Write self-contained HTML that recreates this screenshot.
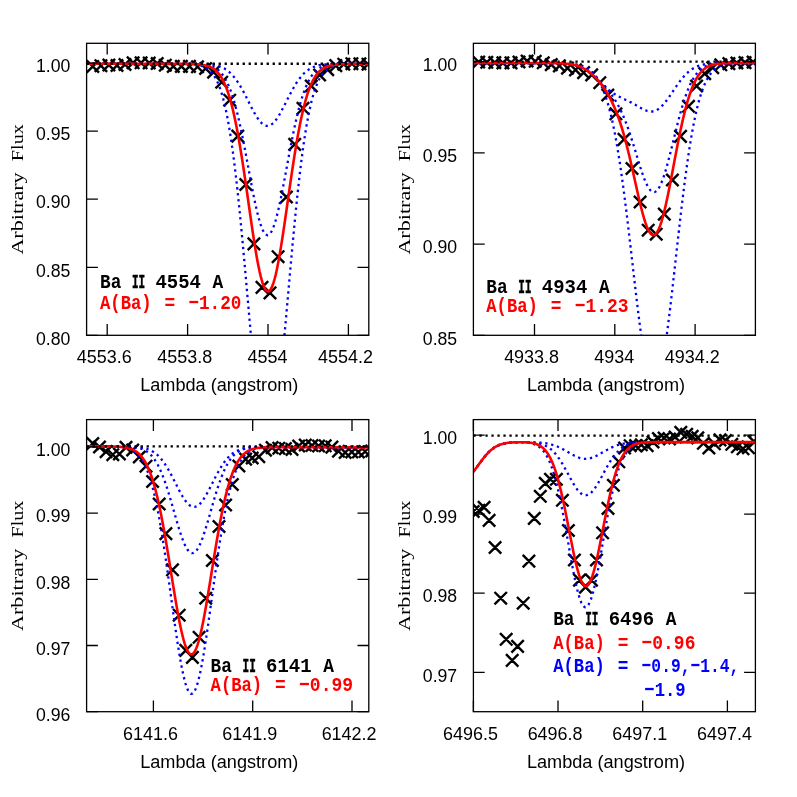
<!DOCTYPE html>
<html><head><meta charset="utf-8"><title>Ba II lines</title>
<style>
html,body{margin:0;padding:0;background:#fff;}
body{width:797px;height:797px;overflow:hidden;font-family:"Liberation Sans",sans-serif;}
svg{display:block;will-change:transform}
text{font-family:"Liberation Sans",sans-serif;fill:#000}
text.tw{font-family:"Liberation Serif",serif;}
text.twb{font-family:"Liberation Mono",monospace;font-weight:bold}
</style></head><body>
<svg width="797" height="797" viewBox="0 0 797 797">
<rect width="797" height="797" fill="#fff"/>
<clipPath id="c1"><rect x="86.6" y="43.3" width="282.20000000000005" height="292.0"/></clipPath>
<g clip-path="url(#c1)">
<path d="M86.6 60.3l12.4 12.4M86.6 72.7l12.4 -12.4M94.7 59.5l12.4 12.4M94.7 71.9l12.4 -12.4M102.7 58.8l12.4 12.4M102.7 71.2l12.4 -12.4M110.8 59.3l12.4 12.4M110.8 71.7l12.4 -12.4M118.8 58.3l12.4 12.4M118.8 70.7l12.4 -12.4M126.9 56.6l12.4 12.4M126.9 69.0l12.4 -12.4M134.9 56.6l12.4 12.4M134.9 69.0l12.4 -12.4M143.0 56.8l12.4 12.4M143.0 69.2l12.4 -12.4M151.0 57.3l12.4 12.4M151.0 69.7l12.4 -12.4M159.1 59.0l12.4 12.4M159.1 71.4l12.4 -12.4M167.1 60.2l12.4 12.4M167.1 72.6l12.4 -12.4M175.2 60.2l12.4 12.4M175.2 72.6l12.4 -12.4M183.3 60.2l12.4 12.4M183.3 72.6l12.4 -12.4M191.3 60.6l12.4 12.4M191.3 73.0l12.4 -12.4M199.4 62.3l12.4 12.4M199.4 74.7l12.4 -12.4M207.4 65.9l12.4 12.4M207.4 78.3l12.4 -12.4M215.5 76.0l12.4 12.4M215.5 88.4l12.4 -12.4M223.5 94.0l12.4 12.4M223.5 106.4l12.4 -12.4M231.6 129.9l12.4 12.4M231.6 142.3l12.4 -12.4M239.6 178.3l12.4 12.4M239.6 190.7l12.4 -12.4M247.7 237.7l12.4 12.4M247.7 250.1l12.4 -12.4M255.8 281.2l12.4 12.4M255.8 293.6l12.4 -12.4M263.8 286.7l12.4 12.4M263.8 299.1l12.4 -12.4M271.9 250.5l12.4 12.4M271.9 262.9l12.4 -12.4M280.2 190.8l12.4 12.4M280.2 203.2l12.4 -12.4M288.5 138.2l12.4 12.4M288.5 150.6l12.4 -12.4M296.8 102.1l12.4 12.4M296.8 114.5l12.4 -12.4M305.1 79.8l12.4 12.4M305.1 92.2l12.4 -12.4M313.4 68.8l12.4 12.4M313.4 81.2l12.4 -12.4M321.5 63.4l12.4 12.4M321.5 75.8l12.4 -12.4M329.6 59.4l12.4 12.4M329.6 71.8l12.4 -12.4M337.6 58.0l12.4 12.4M337.6 70.4l12.4 -12.4M345.7 57.5l12.4 12.4M345.7 69.9l12.4 -12.4M353.7 57.6l12.4 12.4M353.7 70.0l12.4 -12.4M361.8 58.0l12.4 12.4M361.8 70.4l12.4 -12.4" stroke="#000" stroke-width="2.4" fill="none"/>
<path d="M86.6 63.8L87.6 63.8L88.6 63.8L89.6 63.8L90.6 63.8L91.6 63.8L92.6 63.8L93.6 63.8L94.6 63.8L95.6 63.8L96.6 63.8L97.6 63.8L98.6 63.8L99.6 63.8L100.6 63.8L101.6 63.8L102.6 63.8L103.6 63.8L104.6 63.8L105.6 63.8L106.6 63.8L107.6 63.8L108.6 63.8L109.6 63.8L110.6 63.8L111.6 63.8L112.6 63.8L113.6 63.8L114.6 63.8L115.6 63.8L116.6 63.8L117.6 63.8L118.6 63.8L119.6 63.8L120.6 63.8L121.6 63.8L122.6 63.8L123.6 63.8L124.6 63.8L125.6 63.8L126.6 63.8L127.6 63.8L128.6 63.8L129.6 63.8L130.6 63.8L131.6 63.8L132.6 63.8L133.6 63.8L134.6 63.8L135.6 63.8L136.6 63.8L137.6 63.8L138.6 63.8L139.6 63.8L140.6 63.8L141.6 63.8L142.6 63.8L143.6 63.8L144.6 63.8L145.6 63.8L146.6 63.8L147.6 63.8L148.6 63.8L149.6 63.8L150.6 63.8L151.6 63.8L152.6 63.8L153.6 63.8L154.6 63.8L155.6 63.8L156.6 63.8L157.6 63.8L158.6 63.8L159.6 63.8L160.6 63.8L161.6 63.8L162.6 63.8L163.6 63.8L164.6 63.8L165.6 63.8L166.6 63.8L167.6 63.8L168.6 63.8L169.6 63.8L170.6 63.8L171.6 63.8L172.6 63.8L173.6 63.8L174.6 63.8L175.6 63.8L176.6 63.8L177.6 63.8L178.6 63.8L179.6 63.8L180.6 63.8L181.6 63.8L182.6 63.8L183.6 63.8L184.6 63.8L185.6 63.8L186.6 63.8L187.6 63.8L188.6 63.8L189.6 63.8L190.6 63.8L191.6 63.8L192.6 63.8L193.6 63.8L194.6 63.8L195.6 63.8L196.6 63.9L197.6 63.9L198.6 63.9L199.6 63.9L200.6 63.9L201.6 63.9L202.6 64.0L203.6 64.0L204.6 64.1L205.6 64.1L206.6 64.2L207.6 64.2L208.6 64.3L209.6 64.4L210.6 64.5L211.6 64.6L212.6 64.7L213.6 64.9L214.6 65.1L215.6 65.3L216.6 65.5L217.6 65.8L218.6 66.1L219.6 66.4L220.6 66.7L221.6 67.1L222.6 67.6L223.6 68.1L224.6 68.6L225.6 69.3L226.6 69.9L227.6 70.6L228.6 71.4L229.6 72.3L230.6 73.2L231.6 74.2L232.6 75.3L233.6 76.5L234.6 77.7L235.6 79.0L236.6 80.4L237.6 81.8L238.6 83.4L239.6 85.0L240.6 86.6L241.6 88.4L242.6 90.2L243.6 92.0L244.6 93.9L245.6 95.8L246.6 97.8L247.6 99.8L248.6 101.8L249.6 103.7L250.6 105.7L251.6 107.7L252.6 109.6L253.6 111.4L254.6 113.2L255.6 115.0L256.6 116.6L257.6 118.1L258.6 119.6L259.6 120.9L260.6 122.0L261.6 123.1L262.6 123.9L263.6 124.7L264.6 125.2L265.6 125.6L266.6 125.8L267.6 125.9L268.6 125.8L269.6 125.5L270.6 125.0L271.6 124.4L272.6 123.6L273.6 122.7L274.6 121.6L275.6 120.4L276.6 119.0L277.6 117.5L278.6 115.9L279.6 114.3L280.6 112.5L281.6 110.7L282.6 108.8L283.6 106.9L284.6 104.9L285.6 103.0L286.6 101.0L287.6 99.0L288.6 97.0L289.6 95.1L290.6 93.2L291.6 91.3L292.6 89.5L293.6 87.7L294.6 86.0L295.6 84.3L296.6 82.7L297.6 81.2L298.6 79.8L299.6 78.5L300.6 77.2L301.6 76.0L302.6 74.9L303.6 73.8L304.6 72.8L305.6 71.9L306.6 71.1L307.6 70.3L308.6 69.6L309.6 69.0L310.6 68.4L311.6 67.9L312.6 67.4L313.6 67.0L314.6 66.6L315.6 66.2L316.6 65.9L317.6 65.7L318.6 65.4L319.6 65.2L320.6 65.0L321.6 64.8L322.6 64.7L323.6 64.6L324.6 64.5L325.6 64.4L326.6 64.3L327.6 64.2L328.6 64.1L329.6 64.1L330.6 64.0L331.6 64.0L332.6 64.0L333.6 63.9L334.6 63.9L335.6 63.9L336.6 63.9L337.6 63.9L338.6 63.9L339.6 63.8L340.6 63.8L341.6 63.8L342.6 63.8L343.6 63.8L344.6 63.8L345.6 63.8L346.6 63.8L347.6 63.8L348.6 63.8L349.6 63.8L350.6 63.8L351.6 63.8L352.6 63.8L353.6 63.8L354.6 63.8L355.6 63.8L356.6 63.8L357.6 63.8L358.6 63.8L359.6 63.8L360.6 63.8L361.6 63.8L362.6 63.8L363.6 63.8L364.6 63.8L365.6 63.8L366.6 63.8L367.6 63.8L368.6 63.8" stroke="#0000ff" stroke-width="2.3" stroke-dasharray="2.3 3.7" fill="none"/>
<path d="M86.6 63.8L87.6 63.8L88.6 63.8L89.6 63.8L90.6 63.8L91.6 63.8L92.6 63.8L93.6 63.8L94.6 63.8L95.6 63.8L96.6 63.8L97.6 63.8L98.6 63.8L99.6 63.8L100.6 63.8L101.6 63.8L102.6 63.8L103.6 63.8L104.6 63.8L105.6 63.8L106.6 63.8L107.6 63.8L108.6 63.8L109.6 63.8L110.6 63.8L111.6 63.8L112.6 63.8L113.6 63.8L114.6 63.8L115.6 63.8L116.6 63.8L117.6 63.8L118.6 63.8L119.6 63.8L120.6 63.8L121.6 63.8L122.6 63.8L123.6 63.8L124.6 63.8L125.6 63.8L126.6 63.8L127.6 63.8L128.6 63.8L129.6 63.8L130.6 63.8L131.6 63.8L132.6 63.8L133.6 63.8L134.6 63.8L135.6 63.8L136.6 63.8L137.6 63.8L138.6 63.8L139.6 63.8L140.6 63.8L141.6 63.8L142.6 63.8L143.6 63.8L144.6 63.8L145.6 63.8L146.6 63.8L147.6 63.8L148.6 63.8L149.6 63.8L150.6 63.8L151.6 63.8L152.6 63.8L153.6 63.8L154.6 63.8L155.6 63.8L156.6 63.8L157.6 63.8L158.6 63.8L159.6 63.8L160.6 63.8L161.6 63.8L162.6 63.8L163.6 63.8L164.6 63.8L165.6 63.8L166.6 63.8L167.6 63.8L168.6 63.8L169.6 63.8L170.6 63.8L171.6 63.8L172.6 63.8L173.6 63.8L174.6 63.8L175.6 63.8L176.6 63.8L177.6 63.8L178.6 63.8L179.6 63.8L180.6 63.8L181.6 63.8L182.6 63.8L183.6 63.8L184.6 63.8L185.6 63.8L186.6 63.8L187.6 63.8L188.6 63.8L189.6 63.8L190.6 63.9L191.6 63.9L192.6 63.9L193.6 63.9L194.6 63.9L195.6 64.0L196.6 64.0L197.6 64.0L198.6 64.1L199.6 64.1L200.6 64.2L201.6 64.3L202.6 64.4L203.6 64.5L204.6 64.6L205.6 64.7L206.6 64.9L207.6 65.1L208.6 65.3L209.6 65.6L210.6 65.9L211.6 66.2L212.6 66.6L213.6 67.1L214.6 67.6L215.6 68.2L216.6 68.8L217.6 69.6L218.6 70.4L219.6 71.3L220.6 72.4L221.6 73.5L222.6 74.8L223.6 76.2L224.6 77.8L225.6 79.5L226.6 81.4L227.6 83.4L228.6 85.6L229.6 88.0L230.6 90.6L231.6 93.4L232.6 96.4L233.6 99.6L234.6 103.1L235.6 106.7L236.6 110.5L237.6 114.5L238.6 118.8L239.6 123.2L240.6 127.8L241.6 132.6L242.6 137.5L243.6 142.5L244.6 147.7L245.6 153.0L246.6 158.4L247.6 163.8L248.6 169.2L249.6 174.6L250.6 180.0L251.6 185.3L252.6 190.5L253.6 195.6L254.6 200.4L255.6 205.1L256.6 209.6L257.6 213.8L258.6 217.7L259.6 221.2L260.6 224.4L261.6 227.3L262.6 229.7L263.6 231.7L264.6 233.2L265.6 234.4L266.6 235.0L267.6 235.2L268.6 234.9L269.6 234.2L270.6 233.0L271.6 231.3L272.6 229.2L273.6 226.7L274.6 223.8L275.6 220.6L276.6 216.9L277.6 213.0L278.6 208.7L279.6 204.2L280.6 199.5L281.6 194.6L282.6 189.5L283.6 184.2L284.6 178.9L285.6 173.5L286.6 168.1L287.6 162.7L288.6 157.3L289.6 151.9L290.6 146.7L291.6 141.5L292.6 136.5L293.6 131.6L294.6 126.9L295.6 122.3L296.6 117.9L297.6 113.7L298.6 109.7L299.6 105.9L300.6 102.4L301.6 99.0L302.6 95.8L303.6 92.9L304.6 90.1L305.6 87.5L306.6 85.2L307.6 83.0L308.6 81.0L309.6 79.1L310.6 77.5L311.6 75.9L312.6 74.5L313.6 73.3L314.6 72.2L315.6 71.1L316.6 70.2L317.6 69.4L318.6 68.7L319.6 68.1L320.6 67.5L321.6 67.0L322.6 66.5L323.6 66.2L324.6 65.8L325.6 65.5L326.6 65.3L327.6 65.1L328.6 64.9L329.6 64.7L330.6 64.6L331.6 64.4L332.6 64.3L333.6 64.2L334.6 64.2L335.6 64.1L336.6 64.1L337.6 64.0L338.6 64.0L339.6 63.9L340.6 63.9L341.6 63.9L342.6 63.9L343.6 63.9L344.6 63.9L345.6 63.8L346.6 63.8L347.6 63.8L348.6 63.8L349.6 63.8L350.6 63.8L351.6 63.8L352.6 63.8L353.6 63.8L354.6 63.8L355.6 63.8L356.6 63.8L357.6 63.8L358.6 63.8L359.6 63.8L360.6 63.8L361.6 63.8L362.6 63.8L363.6 63.8L364.6 63.8L365.6 63.8L366.6 63.8L367.6 63.8L368.6 63.8" stroke="#0000ff" stroke-width="2.3" stroke-dasharray="2.3 3.7" fill="none"/>
<path d="M86.6 63.8L87.6 63.8L88.6 63.8L89.6 63.8L90.6 63.8L91.6 63.8L92.6 63.8L93.6 63.8L94.6 63.8L95.6 63.8L96.6 63.8L97.6 63.8L98.6 63.8L99.6 63.8L100.6 63.8L101.6 63.8L102.6 63.8L103.6 63.8L104.6 63.8L105.6 63.8L106.6 63.8L107.6 63.8L108.6 63.8L109.6 63.8L110.6 63.8L111.6 63.8L112.6 63.8L113.6 63.8L114.6 63.8L115.6 63.8L116.6 63.8L117.6 63.8L118.6 63.8L119.6 63.8L120.6 63.8L121.6 63.8L122.6 63.8L123.6 63.8L124.6 63.8L125.6 63.8L126.6 63.8L127.6 63.8L128.6 63.8L129.6 63.8L130.6 63.8L131.6 63.8L132.6 63.8L133.6 63.8L134.6 63.8L135.6 63.8L136.6 63.8L137.6 63.8L138.6 63.8L139.6 63.8L140.6 63.8L141.6 63.8L142.6 63.8L143.6 63.8L144.6 63.8L145.6 63.8L146.6 63.8L147.6 63.8L148.6 63.8L149.6 63.8L150.6 63.8L151.6 63.8L152.6 63.8L153.6 63.8L154.6 63.8L155.6 63.8L156.6 63.8L157.6 63.8L158.6 63.8L159.6 63.8L160.6 63.8L161.6 63.8L162.6 63.8L163.6 63.8L164.6 63.8L165.6 63.8L166.6 63.8L167.6 63.8L168.6 63.8L169.6 63.8L170.6 63.8L171.6 63.8L172.6 63.8L173.6 63.8L174.6 63.8L175.6 63.8L176.6 63.8L177.6 63.8L178.6 63.8L179.6 63.8L180.6 63.8L181.6 63.9L182.6 63.9L183.6 63.9L184.6 63.9L185.6 63.9L186.6 63.9L187.6 64.0L188.6 64.0L189.6 64.0L190.6 64.1L191.6 64.2L192.6 64.2L193.6 64.3L194.6 64.4L195.6 64.5L196.6 64.7L197.6 64.8L198.6 65.0L199.6 65.2L200.6 65.5L201.6 65.8L202.6 66.1L203.6 66.5L204.6 66.9L205.6 67.4L206.6 68.0L207.6 68.7L208.6 69.5L209.6 70.3L210.6 71.3L211.6 72.4L212.6 73.6L213.6 75.0L214.6 76.5L215.6 78.2L216.6 80.2L217.6 82.3L218.6 84.6L219.6 87.2L220.6 90.1L221.6 93.2L222.6 96.6L223.6 100.3L224.6 104.4L225.6 108.8L226.6 113.5L227.6 118.6L228.6 124.1L229.6 130.0L230.6 136.3L231.6 143.0L232.6 150.1L233.6 157.6L234.6 165.5L235.6 173.8L236.6 182.5L237.6 191.6L238.6 201.1L239.6 210.9L240.6 221.0L241.6 231.4L242.6 242.1L243.6 253.0L244.6 264.0L245.6 275.2L246.6 286.5L247.6 297.9L248.6 309.2L249.6 320.5L250.6 331.6L251.6 342.5L252.6 353.2L253.6 363.6L254.6 373.6L255.6 383.1L256.6 392.2L257.6 400.7L258.6 408.6L259.6 415.8L260.6 422.3L261.6 428.1L262.6 433.0L263.6 437.2L264.6 440.4L265.6 442.8L266.6 444.2L267.6 444.8L268.6 444.4L269.6 443.1L270.6 441.0L271.6 437.9L272.6 433.9L273.6 429.1L274.6 423.5L275.6 417.2L276.6 410.1L277.6 402.3L278.6 394.0L279.6 385.0L280.6 375.5L281.6 365.6L282.6 355.3L283.6 344.7L284.6 333.8L285.6 322.7L286.6 311.5L287.6 300.2L288.6 288.8L289.6 277.5L290.6 266.3L291.6 255.2L292.6 244.2L293.6 233.5L294.6 223.0L295.6 212.9L296.6 203.0L297.6 193.5L298.6 184.3L299.6 175.5L300.6 167.1L301.6 159.1L302.6 151.5L303.6 144.4L304.6 137.6L305.6 131.2L306.6 125.3L307.6 119.7L308.6 114.5L309.6 109.7L310.6 105.2L311.6 101.1L312.6 97.3L313.6 93.8L314.6 90.7L315.6 87.8L316.6 85.1L317.6 82.7L318.6 80.6L319.6 78.6L320.6 76.9L321.6 75.3L322.6 73.9L323.6 72.6L324.6 71.5L325.6 70.5L326.6 69.6L327.6 68.8L328.6 68.2L329.6 67.6L330.6 67.0L331.6 66.6L332.6 66.2L333.6 65.8L334.6 65.5L335.6 65.3L336.6 65.0L337.6 64.9L338.6 64.7L339.6 64.5L340.6 64.4L341.6 64.3L342.6 64.2L343.6 64.2L344.6 64.1L345.6 64.1L346.6 64.0L347.6 64.0L348.6 63.9L349.6 63.9L350.6 63.9L351.6 63.9L352.6 63.9L353.6 63.9L354.6 63.8L355.6 63.8L356.6 63.8L357.6 63.8L358.6 63.8L359.6 63.8L360.6 63.8L361.6 63.8L362.6 63.8L363.6 63.8L364.6 63.8L365.6 63.8L366.6 63.8L367.6 63.8L368.6 63.8" stroke="#0000ff" stroke-width="2.3" stroke-dasharray="2.3 3.7" fill="none"/>
<path d="M86.6 63.8L87.6 63.8L88.6 63.8L89.6 63.8L90.6 63.8L91.6 63.8L92.6 63.8L93.6 63.8L94.6 63.8L95.6 63.8L96.6 63.8L97.6 63.8L98.6 63.8L99.6 63.8L100.6 63.8L101.6 63.8L102.6 63.8L103.6 63.8L104.6 63.8L105.6 63.8L106.6 63.8L107.6 63.8L108.6 63.8L109.6 63.8L110.6 63.8L111.6 63.8L112.6 63.8L113.6 63.8L114.6 63.8L115.6 63.8L116.6 63.8L117.6 63.8L118.6 63.8L119.6 63.8L120.6 63.8L121.6 63.8L122.6 63.8L123.6 63.8L124.6 63.8L125.6 63.8L126.6 63.8L127.6 63.8L128.6 63.8L129.6 63.8L130.6 63.8L131.6 63.8L132.6 63.8L133.6 63.9L134.6 63.9L135.6 63.9L136.6 63.9L137.6 63.9L138.6 63.9L139.6 63.9L140.6 63.9L141.6 63.9L142.6 63.9L143.6 63.9L144.6 63.9L145.6 63.9L146.6 63.9L147.6 63.9L148.6 63.9L149.6 63.9L150.6 63.9L151.6 63.9L152.6 63.9L153.6 63.9L154.6 63.9L155.6 63.9L156.6 63.9L157.6 63.9L158.6 63.9L159.6 63.9L160.6 63.9L161.6 63.9L162.6 63.9L163.6 63.9L164.6 63.9L165.6 63.9L166.6 63.9L167.6 63.9L168.6 63.9L169.6 63.9L170.6 63.9L171.6 63.9L172.6 63.9L173.6 63.9L174.6 63.9L175.6 63.9L176.6 63.9L177.6 63.9L178.6 63.9L179.6 63.9L180.6 63.9L181.6 63.9L182.6 63.9L183.6 63.9L184.6 63.9L185.6 63.9L186.6 63.9L187.6 64.0L188.6 64.0L189.6 64.0L190.6 64.0L191.6 64.0L192.6 64.1L193.6 64.1L194.6 64.1L195.6 64.2L196.6 64.2L197.6 64.3L198.6 64.4L199.6 64.4L200.6 64.5L201.6 64.7L202.6 64.8L203.6 65.0L204.6 65.2L205.6 65.4L206.6 65.6L207.6 65.9L208.6 66.3L209.6 66.6L210.6 67.1L211.6 67.6L212.6 68.2L213.6 68.8L214.6 69.5L215.6 70.4L216.6 71.3L217.6 72.3L218.6 73.5L219.6 74.8L220.6 76.2L221.6 77.8L222.6 79.6L223.6 81.5L224.6 83.7L225.6 86.0L226.6 88.5L227.6 91.3L228.6 94.3L229.6 97.5L230.6 100.9L231.6 104.7L232.6 108.6L233.6 112.9L234.6 117.4L235.6 122.2L236.6 127.2L237.6 132.5L238.6 138.0L239.6 143.8L240.6 149.8L241.6 156.0L242.6 162.4L243.6 169.0L244.6 175.7L245.6 182.5L246.6 189.5L247.6 196.5L248.6 203.5L249.6 210.5L250.6 217.5L251.6 224.4L252.6 231.2L253.6 237.8L254.6 244.2L255.6 250.3L256.6 256.2L257.6 261.7L258.6 266.8L259.6 271.6L260.6 275.9L261.6 279.7L262.6 283.0L263.6 285.8L264.6 288.1L265.6 289.8L266.6 290.9L267.6 291.4L268.6 291.4L269.6 290.7L270.6 289.5L271.6 287.7L272.6 285.3L273.6 282.4L274.6 279.0L275.6 275.1L276.6 270.7L277.6 265.8L278.6 260.6L279.6 255.0L280.6 249.1L281.6 242.9L282.6 236.5L283.6 229.9L284.6 223.1L285.6 216.2L286.6 209.2L287.6 202.2L288.6 195.1L289.6 188.1L290.6 181.2L291.6 174.4L292.6 167.7L293.6 161.2L294.6 154.8L295.6 148.6L296.6 142.7L297.6 136.9L298.6 131.5L299.6 126.2L300.6 121.3L301.6 116.5L302.6 112.1L303.6 107.9L304.6 104.0L305.6 100.3L306.6 96.9L307.6 93.7L308.6 90.8L309.6 88.1L310.6 85.6L311.6 83.3L312.6 81.2L313.6 79.3L314.6 77.6L315.6 76.0L316.6 74.6L317.6 73.4L318.6 72.2L319.6 71.2L320.6 70.3L321.6 69.5L322.6 68.8L323.6 68.2L324.6 67.6L325.6 67.1L326.6 66.7L327.6 66.3L328.6 66.0L329.6 65.7L330.6 65.5L331.6 65.3L332.6 65.1L333.6 64.9L334.6 64.8L335.6 64.7L336.6 64.6L337.6 64.5L338.6 64.4L339.6 64.4L340.6 64.3L341.6 64.3L342.6 64.2L343.6 64.2L344.6 64.2L345.6 64.2L346.6 64.2L347.6 64.1L348.6 64.1L349.6 64.1L350.6 64.1L351.6 64.1L352.6 64.1L353.6 64.1L354.6 64.1L355.6 64.1L356.6 64.1L357.6 64.1L358.6 64.1L359.6 64.1L360.6 64.1L361.6 64.1L362.6 64.1L363.6 64.1L364.6 64.1L365.6 64.1L366.6 64.1L367.6 64.1L368.6 64.1" stroke="#ff0000" stroke-width="2.6" fill="none" stroke-linejoin="round"/>
<path d="M86.6 63.75H368.8" stroke="#000" stroke-width="2.3" stroke-dasharray="2.3 3.7" fill="none"/>
</g>
<rect x="86.6" y="43.3" width="282.2" height="292.0" fill="none" stroke="#000" stroke-width="1.3"/>
<path d="M107.2 335.3v-11.3M107.2 43.3v11.3M187.6 335.3v-11.3M187.6 43.3v11.3M268.0 335.3v-11.3M268.0 43.3v11.3M348.4 335.3v-11.3M348.4 43.3v11.3M86.6 63.2h11.3M368.8 63.2h-11.3M86.6 131.2h11.3M368.8 131.2h-11.3M86.6 199.2h11.3M368.8 199.2h-11.3M86.6 267.3h11.3M368.8 267.3h-11.3M86.6 335.3h11.3M368.8 335.3h-11.3" stroke="#000" stroke-width="1.3" fill="none"/>
<text x="104.3" y="363.3" text-anchor="middle" font-size="17.5" textLength="54.9" lengthAdjust="spacingAndGlyphs">4553.6</text>
<text x="184.7" y="363.3" text-anchor="middle" font-size="17.5" textLength="54.9" lengthAdjust="spacingAndGlyphs">4553.8</text>
<text x="267.5" y="363.3" text-anchor="middle" font-size="17.5" textLength="39.9" lengthAdjust="spacingAndGlyphs">4554</text>
<text x="345.5" y="363.3" text-anchor="middle" font-size="17.5" textLength="54.9" lengthAdjust="spacingAndGlyphs">4554.2</text>
<text x="70.4" y="72.4" text-anchor="end" font-size="17.5" textLength="34.4" lengthAdjust="spacingAndGlyphs">1.00</text>
<text x="70.4" y="140.4" text-anchor="end" font-size="17.5" textLength="34.4" lengthAdjust="spacingAndGlyphs">0.95</text>
<text x="70.4" y="208.4" text-anchor="end" font-size="17.5" textLength="34.4" lengthAdjust="spacingAndGlyphs">0.90</text>
<text x="70.4" y="276.5" text-anchor="end" font-size="17.5" textLength="34.4" lengthAdjust="spacingAndGlyphs">0.85</text>
<text x="70.4" y="344.5" text-anchor="end" font-size="17.5" textLength="34.4" lengthAdjust="spacingAndGlyphs">0.80</text>
<text x="219.3" y="391.3" text-anchor="middle" font-size="17.5" textLength="158.2" lengthAdjust="spacingAndGlyphs">Lambda (angstrom)</text>
<g transform="translate(23.1 254.6) rotate(-90)"><text x="0" y="0" class="tw" font-size="16.5" textLength="82.3" lengthAdjust="spacingAndGlyphs">Arbitrary</text><text x="93.4" y="0" class="tw" font-size="16.5" textLength="37.1" lengthAdjust="spacingAndGlyphs">Flux</text></g>
<text x="100.0" y="287.6" class="twb" font-size="21.0" style="fill:#000" textLength="21.3" lengthAdjust="spacingAndGlyphs">Ba</text>
<text x="132.0" y="287.6" class="twb" font-size="21.0" style="fill:#000;stroke:#000;stroke-width:0.6" textLength="13.2" lengthAdjust="spacingAndGlyphs">II</text>
<text x="155.5" y="287.6" class="twb" font-size="21.0" style="fill:#000" textLength="45.5" lengthAdjust="spacingAndGlyphs">4554</text>
<text x="212.6" y="287.6" class="twb" font-size="21.0" style="fill:#000" textLength="10.7" lengthAdjust="spacingAndGlyphs">A</text>
<text x="100.0" y="309.0" class="twb" font-size="21.0" style="fill:#ff0000" textLength="51.6" lengthAdjust="spacingAndGlyphs">A(Ba)</text>
<text x="164.5" y="309.0" class="twb" font-size="21.0" style="fill:#ff0000" textLength="10.7" lengthAdjust="spacingAndGlyphs">=</text>
<text x="188.4" y="309.0" class="twb" font-size="21.0" style="fill:#ff0000" textLength="53.0" lengthAdjust="spacingAndGlyphs">−1.20</text>
<clipPath id="c2"><rect x="473.4" y="43.3" width="282.0" height="292.0"/></clipPath>
<g clip-path="url(#c2)">
<path d="M472.5 55.8l12.4 12.4M472.5 68.2l12.4 -12.4M480.6 56.1l12.4 12.4M480.6 68.5l12.4 -12.4M488.6 56.4l12.4 12.4M488.6 68.8l12.4 -12.4M496.7 56.7l12.4 12.4M496.7 69.1l12.4 -12.4M504.8 56.7l12.4 12.4M504.8 69.1l12.4 -12.4M512.8 55.8l12.4 12.4M512.8 68.2l12.4 -12.4M520.9 54.8l12.4 12.4M520.9 67.2l12.4 -12.4M529.0 55.1l12.4 12.4M529.0 67.5l12.4 -12.4M537.1 56.6l12.4 12.4M537.1 69.0l12.4 -12.4M545.1 58.4l12.4 12.4M545.1 70.8l12.4 -12.4M553.2 59.7l12.4 12.4M553.2 72.1l12.4 -12.4M561.3 61.9l12.4 12.4M561.3 74.3l12.4 -12.4M569.3 63.7l12.4 12.4M569.3 76.1l12.4 -12.4M577.4 66.4l12.4 12.4M577.4 78.8l12.4 -12.4M585.5 68.7l12.4 12.4M585.5 81.1l12.4 -12.4M593.6 76.5l12.4 12.4M593.6 88.9l12.4 -12.4M601.6 88.8l12.4 12.4M601.6 101.2l12.4 -12.4M609.7 107.6l12.4 12.4M609.7 120.0l12.4 -12.4M617.8 133.2l12.4 12.4M617.8 145.6l12.4 -12.4M625.8 162.3l12.4 12.4M625.8 174.7l12.4 -12.4M633.9 195.8l12.4 12.4M633.9 208.2l12.4 -12.4M642.0 224.0l12.4 12.4M642.0 236.4l12.4 -12.4M650.0 228.0l12.4 12.4M650.0 240.4l12.4 -12.4M658.1 207.9l12.4 12.4M658.1 220.3l12.4 -12.4M666.2 173.8l12.4 12.4M666.2 186.2l12.4 -12.4M674.3 130.2l12.4 12.4M674.3 142.6l12.4 -12.4M682.3 100.1l12.4 12.4M682.3 112.5l12.4 -12.4M690.4 79.8l12.4 12.4M690.4 92.2l12.4 -12.4M698.5 67.4l12.4 12.4M698.5 79.8l12.4 -12.4M706.5 61.5l12.4 12.4M706.5 73.9l12.4 -12.4M714.6 58.6l12.4 12.4M714.6 71.0l12.4 -12.4M722.7 57.4l12.4 12.4M722.7 69.8l12.4 -12.4M730.7 56.8l12.4 12.4M730.7 69.2l12.4 -12.4M738.8 56.4l12.4 12.4M738.8 68.8l12.4 -12.4M746.9 55.9l12.4 12.4M746.9 68.3l12.4 -12.4" stroke="#000" stroke-width="2.4" fill="none"/>
<path d="M473.4 63.0L474.4 63.0L475.4 63.0L476.4 63.0L477.4 63.0L478.4 63.0L479.4 63.0L480.4 63.0L481.4 63.0L482.4 63.0L483.4 63.0L484.4 63.0L485.4 63.0L486.4 63.0L487.4 63.0L488.4 63.0L489.4 63.0L490.4 63.0L491.4 63.0L492.4 63.0L493.4 63.0L494.4 63.0L495.4 63.0L496.4 63.0L497.4 63.0L498.4 63.0L499.4 63.0L500.4 63.0L501.4 63.0L502.4 63.0L503.4 63.0L504.4 63.0L505.4 63.0L506.4 63.0L507.4 63.0L508.4 63.0L509.4 63.0L510.4 63.0L511.4 63.0L512.4 63.0L513.4 63.0L514.4 63.0L515.4 63.0L516.4 63.0L517.4 63.0L518.4 63.0L519.4 63.0L520.4 63.0L521.4 63.0L522.4 63.0L523.4 63.0L524.4 63.0L525.4 63.0L526.4 63.0L527.4 63.0L528.4 63.0L529.4 63.0L530.4 63.0L531.4 63.0L532.4 63.0L533.4 63.0L534.4 63.0L535.4 63.0L536.4 63.0L537.4 63.0L538.4 63.0L539.4 63.0L540.4 63.0L541.4 63.0L542.4 63.0L543.4 63.0L544.4 63.0L545.4 63.0L546.4 63.0L547.4 63.0L548.4 63.0L549.4 63.0L550.4 63.1L551.4 63.1L552.4 63.1L553.4 63.1L554.4 63.1L555.4 63.1L556.4 63.2L557.4 63.2L558.4 63.2L559.4 63.3L560.4 63.3L561.4 63.4L562.4 63.4L563.4 63.5L564.4 63.6L565.4 63.7L566.4 63.8L567.4 63.9L568.4 64.0L569.4 64.1L570.4 64.3L571.4 64.5L572.4 64.7L573.4 64.9L574.4 65.2L575.4 65.4L576.4 65.7L577.4 66.1L578.4 66.4L579.4 66.8L580.4 67.2L581.4 67.7L582.4 68.2L583.4 68.7L584.4 69.3L585.4 69.9L586.4 70.5L587.4 71.1L588.4 71.8L589.4 72.6L590.4 73.3L591.4 74.1L592.4 75.0L593.4 75.8L594.4 76.7L595.4 77.6L596.4 78.5L597.4 79.4L598.4 80.4L599.4 81.3L600.4 82.3L601.4 83.2L602.4 84.2L603.4 85.1L604.4 86.0L605.4 86.9L606.4 87.8L607.4 88.7L608.4 89.5L609.4 90.3L610.4 91.1L611.4 91.9L612.4 92.6L613.4 93.3L614.4 93.9L615.4 94.6L616.4 95.2L617.4 95.7L618.4 96.3L619.4 96.8L620.4 97.3L621.4 97.8L622.4 98.3L623.4 98.8L624.4 99.2L625.4 99.7L626.4 100.2L627.4 100.6L628.4 101.1L629.4 101.6L630.4 102.1L631.4 102.6L632.4 103.2L633.4 103.7L634.4 104.3L635.4 104.8L636.4 105.4L637.4 106.0L638.4 106.6L639.4 107.2L640.4 107.7L641.4 108.3L642.4 108.8L643.4 109.4L644.4 109.8L645.4 110.3L646.4 110.6L647.4 111.0L648.4 111.2L649.4 111.4L650.4 111.5L651.4 111.5L652.4 111.5L653.4 111.3L654.4 111.1L655.4 110.7L656.4 110.3L657.4 109.7L658.4 109.1L659.4 108.3L660.4 107.5L661.4 106.6L662.4 105.5L663.4 104.5L664.4 103.3L665.4 102.0L666.4 100.7L667.4 99.4L668.4 98.0L669.4 96.5L670.4 95.1L671.4 93.6L672.4 92.1L673.4 90.6L674.4 89.1L675.4 87.6L676.4 86.2L677.4 84.7L678.4 83.3L679.4 82.0L680.4 80.6L681.4 79.3L682.4 78.1L683.4 76.9L684.4 75.8L685.4 74.8L686.4 73.7L687.4 72.8L688.4 71.9L689.4 71.1L690.4 70.3L691.4 69.6L692.4 68.9L693.4 68.3L694.4 67.7L695.4 67.2L696.4 66.7L697.4 66.3L698.4 65.9L699.4 65.6L700.4 65.3L701.4 65.0L702.4 64.7L703.4 64.5L704.4 64.3L705.4 64.1L706.4 64.0L707.4 63.8L708.4 63.7L709.4 63.6L710.4 63.5L711.4 63.4L712.4 63.4L713.4 63.3L714.4 63.3L715.4 63.2L716.4 63.2L717.4 63.2L718.4 63.1L719.4 63.1L720.4 63.1L721.4 63.1L722.4 63.1L723.4 63.1L724.4 63.0L725.4 63.0L726.4 63.0L727.4 63.0L728.4 63.0L729.4 63.0L730.4 63.0L731.4 63.0L732.4 63.0L733.4 63.0L734.4 63.0L735.4 63.0L736.4 63.0L737.4 63.0L738.4 63.0L739.4 63.0L740.4 63.0L741.4 63.0L742.4 63.0L743.4 63.0L744.4 63.0L745.4 63.0L746.4 63.0L747.4 63.0L748.4 63.0L749.4 63.0L750.4 63.0L751.4 63.0L752.4 63.0L753.4 63.0L754.4 63.0L755.4 63.0" stroke="#0000ff" stroke-width="2.3" stroke-dasharray="2.3 3.7" fill="none"/>
<path d="M473.4 63.0L474.4 63.0L475.4 63.0L476.4 63.0L477.4 63.0L478.4 63.0L479.4 63.0L480.4 63.0L481.4 63.0L482.4 63.0L483.4 63.0L484.4 63.0L485.4 63.0L486.4 63.0L487.4 63.0L488.4 63.0L489.4 63.0L490.4 63.0L491.4 63.0L492.4 63.0L493.4 63.0L494.4 63.0L495.4 63.0L496.4 63.0L497.4 63.0L498.4 63.0L499.4 63.0L500.4 63.0L501.4 63.0L502.4 63.0L503.4 63.0L504.4 63.0L505.4 63.0L506.4 63.0L507.4 63.0L508.4 63.0L509.4 63.0L510.4 63.0L511.4 63.0L512.4 63.0L513.4 63.0L514.4 63.0L515.4 63.0L516.4 63.0L517.4 63.0L518.4 63.0L519.4 63.0L520.4 63.0L521.4 63.0L522.4 63.0L523.4 63.0L524.4 63.0L525.4 63.0L526.4 63.0L527.4 63.0L528.4 63.0L529.4 63.0L530.4 63.0L531.4 63.0L532.4 63.0L533.4 63.0L534.4 63.0L535.4 63.0L536.4 63.0L537.4 63.0L538.4 63.0L539.4 63.0L540.4 63.0L541.4 63.0L542.4 63.0L543.4 63.0L544.4 63.0L545.4 63.0L546.4 63.0L547.4 63.0L548.4 63.0L549.4 63.0L550.4 63.0L551.4 63.1L552.4 63.1L553.4 63.1L554.4 63.1L555.4 63.1L556.4 63.1L557.4 63.2L558.4 63.2L559.4 63.2L560.4 63.3L561.4 63.3L562.4 63.4L563.4 63.4L564.4 63.5L565.4 63.6L566.4 63.7L567.4 63.8L568.4 63.9L569.4 64.0L570.4 64.1L571.4 64.3L572.4 64.5L573.4 64.7L574.4 64.9L575.4 65.1L576.4 65.4L577.4 65.7L578.4 66.0L579.4 66.4L580.4 66.7L581.4 67.1L582.4 67.6L583.4 68.0L584.4 68.5L585.4 69.1L586.4 69.6L587.4 70.2L588.4 70.9L589.4 71.6L590.4 72.3L591.4 73.0L592.4 73.8L593.4 74.6L594.4 75.4L595.4 76.3L596.4 77.2L597.4 78.2L598.4 79.1L599.4 80.1L600.4 81.2L601.4 82.2L602.4 83.3L603.4 84.4L604.4 85.6L605.4 86.7L606.4 87.9L607.4 89.2L608.4 90.4L609.4 91.7L610.4 93.1L611.4 94.4L612.4 95.9L613.4 97.4L614.4 98.9L615.4 100.5L616.4 102.2L617.4 103.9L618.4 105.8L619.4 107.7L620.4 109.7L621.4 111.8L622.4 114.0L623.4 116.3L624.4 118.7L625.4 121.2L626.4 123.8L627.4 126.5L628.4 129.3L629.4 132.2L630.4 135.2L631.4 138.3L632.4 141.4L633.4 144.7L634.4 147.9L635.4 151.2L636.4 154.5L637.4 157.8L638.4 161.1L639.4 164.3L640.4 167.5L641.4 170.6L642.4 173.5L643.4 176.3L644.4 179.0L645.4 181.5L646.4 183.7L647.4 185.7L648.4 187.5L649.4 189.0L650.4 190.3L651.4 191.2L652.4 191.8L653.4 192.1L654.4 192.1L655.4 191.8L656.4 191.1L657.4 190.1L658.4 188.7L659.4 187.1L660.4 185.1L661.4 182.9L662.4 180.4L663.4 177.6L664.4 174.6L665.4 171.4L666.4 167.9L667.4 164.3L668.4 160.6L669.4 156.7L670.4 152.8L671.4 148.7L672.4 144.7L673.4 140.6L674.4 136.5L675.4 132.4L676.4 128.4L677.4 124.4L678.4 120.5L679.4 116.7L680.4 113.0L681.4 109.4L682.4 106.0L683.4 102.7L684.4 99.6L685.4 96.6L686.4 93.8L687.4 91.1L688.4 88.6L689.4 86.2L690.4 84.0L691.4 82.0L692.4 80.1L693.4 78.4L694.4 76.8L695.4 75.3L696.4 73.9L697.4 72.7L698.4 71.6L699.4 70.6L700.4 69.7L701.4 68.9L702.4 68.1L703.4 67.5L704.4 66.9L705.4 66.4L706.4 65.9L707.4 65.5L708.4 65.2L709.4 64.9L710.4 64.6L711.4 64.4L712.4 64.2L713.4 64.0L714.4 63.8L715.4 63.7L716.4 63.6L717.4 63.5L718.4 63.4L719.4 63.3L720.4 63.3L721.4 63.2L722.4 63.2L723.4 63.2L724.4 63.1L725.4 63.1L726.4 63.1L727.4 63.1L728.4 63.1L729.4 63.0L730.4 63.0L731.4 63.0L732.4 63.0L733.4 63.0L734.4 63.0L735.4 63.0L736.4 63.0L737.4 63.0L738.4 63.0L739.4 63.0L740.4 63.0L741.4 63.0L742.4 63.0L743.4 63.0L744.4 63.0L745.4 63.0L746.4 63.0L747.4 63.0L748.4 63.0L749.4 63.0L750.4 63.0L751.4 63.0L752.4 63.0L753.4 63.0L754.4 63.0L755.4 63.0" stroke="#0000ff" stroke-width="2.3" stroke-dasharray="2.3 3.7" fill="none"/>
<path d="M473.4 63.0L474.4 63.0L475.4 63.0L476.4 63.0L477.4 63.0L478.4 63.0L479.4 63.0L480.4 63.0L481.4 63.0L482.4 63.0L483.4 63.0L484.4 63.0L485.4 63.0L486.4 63.0L487.4 63.0L488.4 63.0L489.4 63.0L490.4 63.0L491.4 63.0L492.4 63.0L493.4 63.0L494.4 63.0L495.4 63.0L496.4 63.0L497.4 63.0L498.4 63.0L499.4 63.0L500.4 63.0L501.4 63.0L502.4 63.0L503.4 63.0L504.4 63.0L505.4 63.0L506.4 63.0L507.4 63.0L508.4 63.0L509.4 63.0L510.4 63.0L511.4 63.0L512.4 63.0L513.4 63.0L514.4 63.0L515.4 63.0L516.4 63.0L517.4 63.0L518.4 63.0L519.4 63.0L520.4 63.0L521.4 63.0L522.4 63.0L523.4 63.0L524.4 63.0L525.4 63.0L526.4 63.0L527.4 63.0L528.4 63.0L529.4 63.0L530.4 63.0L531.4 63.0L532.4 63.0L533.4 63.0L534.4 63.0L535.4 63.0L536.4 63.0L537.4 63.0L538.4 63.0L539.4 63.0L540.4 63.0L541.4 63.0L542.4 63.0L543.4 63.0L544.4 63.0L545.4 63.0L546.4 63.0L547.4 63.0L548.4 63.0L549.4 63.0L550.4 63.0L551.4 63.0L552.4 63.0L553.4 63.0L554.4 63.0L555.4 63.1L556.4 63.1L557.4 63.1L558.4 63.1L559.4 63.1L560.4 63.1L561.4 63.2L562.4 63.2L563.4 63.2L564.4 63.2L565.4 63.3L566.4 63.3L567.4 63.4L568.4 63.5L569.4 63.5L570.4 63.6L571.4 63.7L572.4 63.8L573.4 63.9L574.4 64.1L575.4 64.2L576.4 64.4L577.4 64.6L578.4 64.8L579.4 65.1L580.4 65.4L581.4 65.7L582.4 66.0L583.4 66.4L584.4 66.8L585.4 67.3L586.4 67.8L587.4 68.4L588.4 69.1L589.4 69.8L590.4 70.6L591.4 71.4L592.4 72.4L593.4 73.4L594.4 74.5L595.4 75.8L596.4 77.1L597.4 78.6L598.4 80.2L599.4 82.0L600.4 83.8L601.4 85.9L602.4 88.1L603.4 90.5L604.4 93.1L605.4 95.8L606.4 98.8L607.4 102.0L608.4 105.4L609.4 109.1L610.4 113.0L611.4 117.1L612.4 121.6L613.4 126.2L614.4 131.2L615.4 136.4L616.4 141.9L617.4 147.7L618.4 153.8L619.4 160.1L620.4 166.7L621.4 173.6L622.4 180.8L623.4 188.2L624.4 195.8L625.4 203.7L626.4 211.7L627.4 219.9L628.4 228.3L629.4 236.8L630.4 245.5L631.4 254.2L632.4 262.9L633.4 271.6L634.4 280.3L635.4 288.9L636.4 297.4L637.4 305.7L638.4 313.9L639.4 321.8L640.4 329.4L641.4 336.7L642.4 343.6L643.4 350.1L644.4 356.2L645.4 361.8L646.4 366.9L647.4 371.4L648.4 375.4L649.4 378.7L650.4 381.4L651.4 383.5L652.4 384.9L653.4 385.7L654.4 385.8L655.4 385.1L656.4 383.9L657.4 381.9L658.4 379.3L659.4 376.1L660.4 372.2L661.4 367.8L662.4 362.8L663.4 357.2L664.4 351.1L665.4 344.6L666.4 337.6L667.4 330.2L668.4 322.5L669.4 314.4L670.4 306.1L671.4 297.6L672.4 288.9L673.4 280.0L674.4 271.1L675.4 262.1L676.4 253.0L677.4 244.0L678.4 235.1L679.4 226.3L680.4 217.5L681.4 209.0L682.4 200.6L683.4 192.4L684.4 184.4L685.4 176.7L686.4 169.3L687.4 162.1L688.4 155.2L689.4 148.6L690.4 142.3L691.4 136.4L692.4 130.7L693.4 125.3L694.4 120.3L695.4 115.5L696.4 111.0L697.4 106.8L698.4 102.9L699.4 99.3L700.4 95.9L701.4 92.8L702.4 89.9L703.4 87.2L704.4 84.8L705.4 82.6L706.4 80.5L707.4 78.7L708.4 77.0L709.4 75.4L710.4 74.0L711.4 72.8L712.4 71.6L713.4 70.6L714.4 69.7L715.4 68.9L716.4 68.2L717.4 67.5L718.4 66.9L719.4 66.4L720.4 66.0L721.4 65.6L722.4 65.2L723.4 64.9L724.4 64.7L725.4 64.4L726.4 64.2L727.4 64.1L728.4 63.9L729.4 63.8L730.4 63.7L731.4 63.6L732.4 63.5L733.4 63.4L734.4 63.3L735.4 63.3L736.4 63.2L737.4 63.2L738.4 63.2L739.4 63.1L740.4 63.1L741.4 63.1L742.4 63.1L743.4 63.1L744.4 63.1L745.4 63.0L746.4 63.0L747.4 63.0L748.4 63.0L749.4 63.0L750.4 63.0L751.4 63.0L752.4 63.0L753.4 63.0L754.4 63.0L755.4 63.0" stroke="#0000ff" stroke-width="2.3" stroke-dasharray="2.3 3.7" fill="none"/>
<path d="M473.4 63.0L474.4 63.0L475.4 63.0L476.4 63.0L477.4 63.0L478.4 63.0L479.4 63.0L480.4 63.0L481.4 63.0L482.4 63.0L483.4 63.0L484.4 63.0L485.4 63.0L486.4 63.0L487.4 63.0L488.4 63.0L489.4 63.0L490.4 63.0L491.4 63.0L492.4 63.0L493.4 63.0L494.4 63.0L495.4 63.0L496.4 63.0L497.4 63.0L498.4 63.0L499.4 63.0L500.4 63.0L501.4 63.0L502.4 63.0L503.4 63.0L504.4 63.0L505.4 63.0L506.4 63.0L507.4 63.0L508.4 63.0L509.4 63.0L510.4 63.0L511.4 63.0L512.4 63.0L513.4 63.0L514.4 63.0L515.4 63.0L516.4 63.0L517.4 63.0L518.4 63.0L519.4 63.0L520.4 63.0L521.4 63.0L522.4 63.0L523.4 63.0L524.4 63.0L525.4 63.0L526.4 63.0L527.4 63.0L528.4 63.0L529.4 63.0L530.4 63.0L531.4 63.0L532.4 63.0L533.4 63.0L534.4 63.0L535.4 63.0L536.4 63.0L537.4 63.0L538.4 63.0L539.4 63.0L540.4 63.0L541.4 63.0L542.4 63.0L543.4 63.0L544.4 63.0L545.4 63.0L546.4 63.0L547.4 63.0L548.4 63.0L549.4 63.0L550.4 63.0L551.4 63.1L552.4 63.1L553.4 63.1L554.4 63.1L555.4 63.1L556.4 63.1L557.4 63.2L558.4 63.2L559.4 63.2L560.4 63.3L561.4 63.3L562.4 63.4L563.4 63.4L564.4 63.5L565.4 63.6L566.4 63.7L567.4 63.8L568.4 63.9L569.4 64.0L570.4 64.2L571.4 64.3L572.4 64.5L573.4 64.7L574.4 65.0L575.4 65.2L576.4 65.5L577.4 65.8L578.4 66.1L579.4 66.5L580.4 66.9L581.4 67.3L582.4 67.8L583.4 68.3L584.4 68.8L585.4 69.4L586.4 70.0L587.4 70.6L588.4 71.3L589.4 72.1L590.4 72.8L591.4 73.7L592.4 74.5L593.4 75.5L594.4 76.4L595.4 77.4L596.4 78.5L597.4 79.6L598.4 80.7L599.4 81.9L600.4 83.2L601.4 84.5L602.4 85.8L603.4 87.2L604.4 88.7L605.4 90.2L606.4 91.8L607.4 93.5L608.4 95.2L609.4 97.0L610.4 98.9L611.4 100.8L612.4 102.9L613.4 105.1L614.4 107.3L615.4 109.7L616.4 112.2L617.4 114.8L618.4 117.5L619.4 120.4L620.4 123.3L621.4 126.5L622.4 129.7L623.4 133.1L624.4 136.7L625.4 140.4L626.4 144.2L627.4 148.1L628.4 152.2L629.4 156.3L630.4 160.6L631.4 165.0L632.4 169.4L633.4 173.8L634.4 178.3L635.4 182.8L636.4 187.3L637.4 191.8L638.4 196.2L639.4 200.5L640.4 204.6L641.4 208.6L642.4 212.5L643.4 216.1L644.4 219.5L645.4 222.6L646.4 225.4L647.4 227.9L648.4 230.0L649.4 231.8L650.4 233.3L651.4 234.3L652.4 234.9L653.4 235.1L654.4 234.9L655.4 234.3L656.4 233.2L657.4 231.7L658.4 229.9L659.4 227.6L660.4 224.9L661.4 221.9L662.4 218.5L663.4 214.9L664.4 210.9L665.4 206.6L666.4 202.1L667.4 197.4L668.4 192.6L669.4 187.5L670.4 182.4L671.4 177.2L672.4 171.9L673.4 166.5L674.4 161.2L675.4 155.9L676.4 150.7L677.4 145.5L678.4 140.5L679.4 135.5L680.4 130.7L681.4 126.1L682.4 121.6L683.4 117.3L684.4 113.1L685.4 109.2L686.4 105.4L687.4 101.9L688.4 98.6L689.4 95.4L690.4 92.5L691.4 89.7L692.4 87.2L693.4 84.8L694.4 82.6L695.4 80.6L696.4 78.7L697.4 77.1L698.4 75.5L699.4 74.1L700.4 72.8L701.4 71.7L702.4 70.6L703.4 69.7L704.4 68.9L705.4 68.1L706.4 67.5L707.4 66.9L708.4 66.4L709.4 65.9L710.4 65.5L711.4 65.2L712.4 64.9L713.4 64.6L714.4 64.4L715.4 64.2L716.4 64.0L717.4 63.8L718.4 63.7L719.4 63.6L720.4 63.5L721.4 63.4L722.4 63.3L723.4 63.3L724.4 63.2L725.4 63.2L726.4 63.2L727.4 63.1L728.4 63.1L729.4 63.1L730.4 63.1L731.4 63.1L732.4 63.0L733.4 63.0L734.4 63.0L735.4 63.0L736.4 63.0L737.4 63.0L738.4 63.0L739.4 63.0L740.4 63.0L741.4 63.0L742.4 63.0L743.4 63.0L744.4 63.0L745.4 63.0L746.4 63.0L747.4 63.0L748.4 63.0L749.4 63.0L750.4 63.0L751.4 63.0L752.4 63.0L753.4 63.0L754.4 63.0L755.4 63.0" stroke="#ff0000" stroke-width="2.6" fill="none" stroke-linejoin="round"/>
<path d="M473.4 61.6H755.4" stroke="#000" stroke-width="2.3" stroke-dasharray="2.3 3.7" fill="none"/>
</g>
<rect x="473.4" y="43.3" width="282.0" height="292.0" fill="none" stroke="#000" stroke-width="1.3"/>
<path d="M534.5 335.3v-11.3M534.5 43.3v11.3M614.8 335.3v-11.3M614.8 43.3v11.3M695.1 335.3v-11.3M695.1 43.3v11.3M473.4 61.6h11.3M755.4 61.6h-11.3M473.4 152.8h11.3M755.4 152.8h-11.3M473.4 244.1h11.3M755.4 244.1h-11.3M473.4 335.3h11.3M755.4 335.3h-11.3" stroke="#000" stroke-width="1.3" fill="none"/>
<text x="531.6" y="363.3" text-anchor="middle" font-size="17.5" textLength="54.9" lengthAdjust="spacingAndGlyphs">4933.8</text>
<text x="614.3" y="363.3" text-anchor="middle" font-size="17.5" textLength="39.9" lengthAdjust="spacingAndGlyphs">4934</text>
<text x="692.2" y="363.3" text-anchor="middle" font-size="17.5" textLength="54.9" lengthAdjust="spacingAndGlyphs">4934.2</text>
<text x="457.2" y="70.8" text-anchor="end" font-size="17.5" textLength="34.4" lengthAdjust="spacingAndGlyphs">1.00</text>
<text x="457.2" y="162.0" text-anchor="end" font-size="17.5" textLength="34.4" lengthAdjust="spacingAndGlyphs">0.95</text>
<text x="457.2" y="253.3" text-anchor="end" font-size="17.5" textLength="34.4" lengthAdjust="spacingAndGlyphs">0.90</text>
<text x="457.2" y="344.5" text-anchor="end" font-size="17.5" textLength="34.4" lengthAdjust="spacingAndGlyphs">0.85</text>
<text x="606.0" y="391.3" text-anchor="middle" font-size="17.5" textLength="158.2" lengthAdjust="spacingAndGlyphs">Lambda (angstrom)</text>
<g transform="translate(409.9 254.6) rotate(-90)"><text x="0" y="0" class="tw" font-size="16.5" textLength="82.3" lengthAdjust="spacingAndGlyphs">Arbitrary</text><text x="93.4" y="0" class="tw" font-size="16.5" textLength="37.1" lengthAdjust="spacingAndGlyphs">Flux</text></g>
<text x="486.3" y="293.4" class="twb" font-size="21.0" style="fill:#000" textLength="21.3" lengthAdjust="spacingAndGlyphs">Ba</text>
<text x="518.3" y="293.4" class="twb" font-size="21.0" style="fill:#000;stroke:#000;stroke-width:0.6" textLength="13.2" lengthAdjust="spacingAndGlyphs">II</text>
<text x="541.8" y="293.4" class="twb" font-size="21.0" style="fill:#000" textLength="45.5" lengthAdjust="spacingAndGlyphs">4934</text>
<text x="598.9" y="293.4" class="twb" font-size="21.0" style="fill:#000" textLength="10.7" lengthAdjust="spacingAndGlyphs">A</text>
<text x="486.3" y="312.2" class="twb" font-size="21.0" style="fill:#ff0000" textLength="51.6" lengthAdjust="spacingAndGlyphs">A(Ba)</text>
<text x="550.8" y="312.2" class="twb" font-size="21.0" style="fill:#ff0000" textLength="10.7" lengthAdjust="spacingAndGlyphs">=</text>
<text x="574.7" y="312.2" class="twb" font-size="21.0" style="fill:#ff0000" textLength="53.9" lengthAdjust="spacingAndGlyphs">−1.23</text>
<clipPath id="c3"><rect x="86.6" y="419.6" width="282.20000000000005" height="292.1"/></clipPath>
<g clip-path="url(#c3)">
<path d="M86.6 437.3l12.4 12.4M86.6 449.7l12.4 -12.4M93.3 440.8l12.4 12.4M93.3 453.2l12.4 -12.4M99.9 445.4l12.4 12.4M99.9 457.8l12.4 -12.4M106.6 448.5l12.4 12.4M106.6 460.9l12.4 -12.4M113.2 447.8l12.4 12.4M113.2 460.2l12.4 -12.4M119.8 441.1l12.4 12.4M119.8 453.5l12.4 -12.4M126.5 443.8l12.4 12.4M126.5 456.2l12.4 -12.4M133.1 450.8l12.4 12.4M133.1 463.2l12.4 -12.4M139.8 460.0l12.4 12.4M139.8 472.4l12.4 -12.4M146.4 475.3l12.4 12.4M146.4 487.7l12.4 -12.4M153.0 497.8l12.4 12.4M153.0 510.2l12.4 -12.4M159.7 527.4l12.4 12.4M159.7 539.8l12.4 -12.4M166.3 563.6l12.4 12.4M166.3 576.0l12.4 -12.4M173.0 609.0l12.4 12.4M173.0 621.4l12.4 -12.4M179.6 644.2l12.4 12.4M179.6 656.6l12.4 -12.4M186.2 651.2l12.4 12.4M186.2 663.6l12.4 -12.4M192.9 631.1l12.4 12.4M192.9 643.5l12.4 -12.4M199.5 592.0l12.4 12.4M199.5 604.4l12.4 -12.4M206.2 554.3l12.4 12.4M206.2 566.7l12.4 -12.4M212.8 520.3l12.4 12.4M212.8 532.7l12.4 -12.4M219.4 498.8l12.4 12.4M219.4 511.2l12.4 -12.4M226.1 478.3l12.4 12.4M226.1 490.7l12.4 -12.4M232.7 459.8l12.4 12.4M232.7 472.2l12.4 -12.4M239.4 452.9l12.4 12.4M239.4 465.3l12.4 -12.4M246.0 451.8l12.4 12.4M246.0 464.2l12.4 -12.4M252.6 450.5l12.4 12.4M252.6 462.9l12.4 -12.4M259.3 444.0l12.4 12.4M259.3 456.4l12.4 -12.4M265.9 441.4l12.4 12.4M265.9 453.8l12.4 -12.4M272.6 442.0l12.4 12.4M272.6 454.4l12.4 -12.4M279.2 442.4l12.4 12.4M279.2 454.8l12.4 -12.4M285.8 443.2l12.4 12.4M285.8 455.6l12.4 -12.4M292.5 439.8l12.4 12.4M292.5 452.2l12.4 -12.4M299.1 438.8l12.4 12.4M299.1 451.2l12.4 -12.4M305.8 439.3l12.4 12.4M305.8 451.7l12.4 -12.4M312.4 439.8l12.4 12.4M312.4 452.2l12.4 -12.4M319.0 439.6l12.4 12.4M319.0 452.0l12.4 -12.4M325.7 440.9l12.4 12.4M325.7 453.3l12.4 -12.4M332.3 445.0l12.4 12.4M332.3 457.4l12.4 -12.4M339.0 446.3l12.4 12.4M339.0 458.7l12.4 -12.4M345.6 445.8l12.4 12.4M345.6 458.2l12.4 -12.4M352.2 445.8l12.4 12.4M352.2 458.2l12.4 -12.4M358.9 445.3l12.4 12.4M358.9 457.7l12.4 -12.4M365.5 444.8l12.4 12.4M365.5 457.2l12.4 -12.4" stroke="#000" stroke-width="2.4" fill="none"/>
<path d="M86.6 446.3L87.6 446.3L88.6 446.3L89.6 446.3L90.6 446.3L91.6 446.3L92.6 446.3L93.6 446.3L94.6 446.3L95.6 446.3L96.6 446.3L97.6 446.3L98.6 446.3L99.6 446.4L100.6 446.4L101.6 446.4L102.6 446.4L103.6 446.4L104.6 446.4L105.6 446.4L106.6 446.4L107.6 446.4L108.6 446.4L109.6 446.4L110.6 446.4L111.6 446.4L112.6 446.4L113.6 446.4L114.6 446.4L115.6 446.4L116.6 446.4L117.6 446.4L118.6 446.4L119.6 446.4L120.6 446.5L121.6 446.5L122.6 446.5L123.6 446.5L124.6 446.5L125.6 446.5L126.6 446.5L127.6 446.6L128.6 446.6L129.6 446.6L130.6 446.6L131.6 446.7L132.6 446.7L133.6 446.8L134.6 446.8L135.6 446.9L136.6 447.0L137.6 447.1L138.6 447.2L139.6 447.3L140.6 447.4L141.6 447.6L142.6 447.7L143.6 447.9L144.6 448.2L145.6 448.4L146.6 448.7L147.6 449.1L148.6 449.4L149.6 449.8L150.6 450.3L151.6 450.8L152.6 451.4L153.6 452.0L154.6 452.7L155.6 453.4L156.6 454.3L157.6 455.1L158.6 456.1L159.6 457.1L160.6 458.3L161.6 459.5L162.6 460.7L163.6 462.1L164.6 463.5L165.6 465.0L166.6 466.6L167.6 468.3L168.6 470.0L169.6 471.8L170.6 473.6L171.6 475.5L172.6 477.4L173.6 479.4L174.6 481.3L175.6 483.3L176.6 485.3L177.6 487.3L178.6 489.2L179.6 491.1L180.6 493.0L181.6 494.8L182.6 496.5L183.6 498.1L184.6 499.7L185.6 501.1L186.6 502.3L187.6 503.5L188.6 504.4L189.6 505.3L190.6 505.9L191.6 506.4L192.6 506.8L193.6 506.9L194.6 506.9L195.6 506.7L196.6 506.3L197.6 505.7L198.6 505.0L199.6 504.1L200.6 503.1L201.6 501.9L202.6 500.6L203.6 499.1L204.6 497.6L205.6 495.9L206.6 494.2L207.6 492.4L208.6 490.5L209.6 488.6L210.6 486.6L211.6 484.7L212.6 482.7L213.6 480.7L214.6 478.7L215.6 476.8L216.6 474.9L217.6 473.0L218.6 471.2L219.6 469.5L220.6 467.8L221.6 466.2L222.6 464.6L223.6 463.2L224.6 461.8L225.6 460.5L226.6 459.2L227.6 458.1L228.6 457.0L229.6 456.0L230.6 455.1L231.6 454.2L232.6 453.4L233.6 452.7L234.6 452.1L235.6 451.5L236.6 450.9L237.6 450.5L238.6 450.0L239.6 449.6L240.6 449.3L241.6 449.0L242.6 448.7L243.6 448.5L244.6 448.3L245.6 448.1L246.6 447.9L247.6 447.8L248.6 447.7L249.6 447.5L250.6 447.5L251.6 447.4L252.6 447.3L253.6 447.3L254.6 447.2L255.6 447.2L256.6 447.1L257.6 447.1L258.6 447.1L259.6 447.1L260.6 447.1L261.6 447.1L262.6 447.0L263.6 447.0L264.6 447.0L265.6 447.0L266.6 447.0L267.6 447.0L268.6 447.0L269.6 447.0L270.6 447.0L271.6 447.0L272.6 447.0L273.6 447.0L274.6 447.0L275.6 447.0L276.6 447.0L277.6 447.0L278.6 447.1L279.6 447.1L280.6 447.1L281.6 447.1L282.6 447.1L283.6 447.1L284.6 447.1L285.6 447.1L286.6 447.1L287.6 447.1L288.6 447.1L289.6 447.1L290.6 447.1L291.6 447.1L292.6 447.1L293.6 447.1L294.6 447.1L295.6 447.1L296.6 447.1L297.6 447.1L298.6 447.1L299.6 447.1L300.6 447.1L301.6 447.1L302.6 447.1L303.6 447.1L304.6 447.2L305.6 447.2L306.6 447.2L307.6 447.2L308.6 447.2L309.6 447.2L310.6 447.2L311.6 447.2L312.6 447.2L313.6 447.2L314.6 447.2L315.6 447.2L316.6 447.2L317.6 447.2L318.6 447.2L319.6 447.2L320.6 447.2L321.6 447.2L322.6 447.2L323.6 447.2L324.6 447.2L325.6 447.2L326.6 447.2L327.6 447.2L328.6 447.2L329.6 447.2L330.6 447.3L331.6 447.3L332.6 447.3L333.6 447.3L334.6 447.3L335.6 447.3L336.6 447.3L337.6 447.3L338.6 447.3L339.6 447.3L340.6 447.3L341.6 447.3L342.6 447.3L343.6 447.3L344.6 447.3L345.6 447.3L346.6 447.3L347.6 447.3L348.6 447.3L349.6 447.3L350.6 447.3L351.6 447.3L352.6 447.3L353.6 447.3L354.6 447.3L355.6 447.3L356.6 447.4L357.6 447.4L358.6 447.4L359.6 447.4L360.6 447.4L361.6 447.4L362.6 447.4L363.6 447.4L364.6 447.4L365.6 447.4L366.6 447.4L367.6 447.4L368.6 447.4" stroke="#0000ff" stroke-width="2.3" stroke-dasharray="2.3 3.7" fill="none"/>
<path d="M86.6 446.3L87.6 446.3L88.6 446.3L89.6 446.3L90.6 446.3L91.6 446.3L92.6 446.3L93.6 446.3L94.6 446.3L95.6 446.3L96.6 446.3L97.6 446.3L98.6 446.3L99.6 446.4L100.6 446.4L101.6 446.4L102.6 446.4L103.6 446.4L104.6 446.4L105.6 446.4L106.6 446.4L107.6 446.4L108.6 446.4L109.6 446.4L110.6 446.4L111.6 446.4L112.6 446.4L113.6 446.4L114.6 446.4L115.6 446.4L116.6 446.4L117.6 446.4L118.6 446.5L119.6 446.5L120.6 446.5L121.6 446.5L122.6 446.5L123.6 446.5L124.6 446.6L125.6 446.6L126.6 446.6L127.6 446.7L128.6 446.7L129.6 446.8L130.6 446.9L131.6 446.9L132.6 447.0L133.6 447.1L134.6 447.3L135.6 447.4L136.6 447.6L137.6 447.8L138.6 448.0L139.6 448.3L140.6 448.6L141.6 448.9L142.6 449.3L143.6 449.7L144.6 450.2L145.6 450.8L146.6 451.4L147.6 452.1L148.6 452.9L149.6 453.7L150.6 454.7L151.6 455.7L152.6 456.9L153.6 458.2L154.6 459.6L155.6 461.1L156.6 462.7L157.6 464.5L158.6 466.4L159.6 468.5L160.6 470.7L161.6 473.0L162.6 475.5L163.6 478.1L164.6 480.8L165.6 483.7L166.6 486.7L167.6 489.8L168.6 493.0L169.6 496.3L170.6 499.7L171.6 503.1L172.6 506.6L173.6 510.1L174.6 513.6L175.6 517.1L176.6 520.6L177.6 524.0L178.6 527.3L179.6 530.6L180.6 533.6L181.6 536.6L182.6 539.3L183.6 541.9L184.6 544.2L185.6 546.3L186.6 548.2L187.6 549.8L188.6 551.1L189.6 552.1L190.6 552.8L191.6 553.1L192.6 553.2L193.6 553.0L194.6 552.4L195.6 551.5L196.6 550.4L197.6 548.9L198.6 547.2L199.6 545.2L200.6 542.9L201.6 540.5L202.6 537.8L203.6 534.9L204.6 531.9L205.6 528.7L206.6 525.5L207.6 522.1L208.6 518.7L209.6 515.2L210.6 511.7L211.6 508.2L212.6 504.7L213.6 501.2L214.6 497.8L215.6 494.5L216.6 491.3L217.6 488.1L218.6 485.1L219.6 482.2L220.6 479.4L221.6 476.7L222.6 474.2L223.6 471.8L224.6 469.6L225.6 467.5L226.6 465.5L227.6 463.7L228.6 462.0L229.6 460.5L230.6 459.0L231.6 457.7L232.6 456.5L233.6 455.4L234.6 454.4L235.6 453.5L236.6 452.7L237.6 452.0L238.6 451.4L239.6 450.8L240.6 450.3L241.6 449.8L242.6 449.4L243.6 449.1L244.6 448.8L245.6 448.5L246.6 448.3L247.6 448.1L248.6 447.9L249.6 447.8L250.6 447.6L251.6 447.5L252.6 447.4L253.6 447.4L254.6 447.3L255.6 447.2L256.6 447.2L257.6 447.2L258.6 447.1L259.6 447.1L260.6 447.1L261.6 447.1L262.6 447.1L263.6 447.0L264.6 447.0L265.6 447.0L266.6 447.0L267.6 447.0L268.6 447.0L269.6 447.0L270.6 447.0L271.6 447.0L272.6 447.0L273.6 447.0L274.6 447.0L275.6 447.0L276.6 447.0L277.6 447.0L278.6 447.1L279.6 447.1L280.6 447.1L281.6 447.1L282.6 447.1L283.6 447.1L284.6 447.1L285.6 447.1L286.6 447.1L287.6 447.1L288.6 447.1L289.6 447.1L290.6 447.1L291.6 447.1L292.6 447.1L293.6 447.1L294.6 447.1L295.6 447.1L296.6 447.1L297.6 447.1L298.6 447.1L299.6 447.1L300.6 447.1L301.6 447.1L302.6 447.1L303.6 447.1L304.6 447.2L305.6 447.2L306.6 447.2L307.6 447.2L308.6 447.2L309.6 447.2L310.6 447.2L311.6 447.2L312.6 447.2L313.6 447.2L314.6 447.2L315.6 447.2L316.6 447.2L317.6 447.2L318.6 447.2L319.6 447.2L320.6 447.2L321.6 447.2L322.6 447.2L323.6 447.2L324.6 447.2L325.6 447.2L326.6 447.2L327.6 447.2L328.6 447.2L329.6 447.2L330.6 447.3L331.6 447.3L332.6 447.3L333.6 447.3L334.6 447.3L335.6 447.3L336.6 447.3L337.6 447.3L338.6 447.3L339.6 447.3L340.6 447.3L341.6 447.3L342.6 447.3L343.6 447.3L344.6 447.3L345.6 447.3L346.6 447.3L347.6 447.3L348.6 447.3L349.6 447.3L350.6 447.3L351.6 447.3L352.6 447.3L353.6 447.3L354.6 447.3L355.6 447.3L356.6 447.4L357.6 447.4L358.6 447.4L359.6 447.4L360.6 447.4L361.6 447.4L362.6 447.4L363.6 447.4L364.6 447.4L365.6 447.4L366.6 447.4L367.6 447.4L368.6 447.4" stroke="#0000ff" stroke-width="2.3" stroke-dasharray="2.3 3.7" fill="none"/>
<path d="M86.6 446.3L87.6 446.3L88.6 446.3L89.6 446.3L90.6 446.3L91.6 446.3L92.6 446.3L93.6 446.3L94.6 446.3L95.6 446.3L96.6 446.3L97.6 446.3L98.6 446.4L99.6 446.4L100.6 446.4L101.6 446.4L102.6 446.4L103.6 446.4L104.6 446.4L105.6 446.4L106.6 446.4L107.6 446.4L108.6 446.5L109.6 446.5L110.6 446.5L111.6 446.5L112.6 446.6L113.6 446.6L114.6 446.6L115.6 446.7L116.6 446.7L117.6 446.8L118.6 446.9L119.6 447.0L120.6 447.1L121.6 447.2L122.6 447.3L123.6 447.5L124.6 447.7L125.6 447.9L126.6 448.1L127.6 448.4L128.6 448.7L129.6 449.1L130.6 449.5L131.6 449.9L132.6 450.5L133.6 451.1L134.6 451.7L135.6 452.5L136.6 453.4L137.6 454.3L138.6 455.4L139.6 456.6L140.6 457.9L141.6 459.3L142.6 460.9L143.6 462.7L144.6 464.6L145.6 466.7L146.6 469.0L147.6 471.5L148.6 474.2L149.6 477.2L150.6 480.4L151.6 483.8L152.6 487.4L153.6 491.3L154.6 495.5L155.6 499.9L156.6 504.6L157.6 509.6L158.6 514.8L159.6 520.3L160.6 526.0L161.6 531.9L162.6 538.1L163.6 544.5L164.6 551.1L165.6 557.9L166.6 564.8L167.6 571.9L168.6 579.1L169.6 586.3L170.6 593.6L171.6 600.9L172.6 608.2L173.6 615.5L174.6 622.6L175.6 629.6L176.6 636.4L177.6 643.0L178.6 649.4L179.6 655.5L180.6 661.2L181.6 666.6L182.6 671.6L183.6 676.1L184.6 680.2L185.6 683.8L186.6 686.8L187.6 689.4L188.6 691.3L189.6 692.7L190.6 693.6L191.6 693.8L192.6 693.5L193.6 692.5L194.6 691.0L195.6 688.9L196.6 686.3L197.6 683.1L198.6 679.5L199.6 675.3L200.6 670.7L201.6 665.6L202.6 660.2L203.6 654.4L204.6 648.3L205.6 641.8L206.6 635.2L207.6 628.3L208.6 621.3L209.6 614.2L210.6 606.9L211.6 599.6L212.6 592.3L213.6 585.0L214.6 577.8L215.6 570.7L216.6 563.6L217.6 556.7L218.6 550.0L219.6 543.4L220.6 537.1L221.6 531.0L222.6 525.1L223.6 519.4L224.6 514.0L225.6 508.8L226.6 503.9L227.6 499.3L228.6 494.9L229.6 490.8L230.6 487.0L231.6 483.4L232.6 480.0L233.6 476.9L234.6 474.0L235.6 471.3L236.6 468.9L237.6 466.6L238.6 464.6L239.6 462.7L240.6 461.0L241.6 459.4L242.6 458.0L243.6 456.7L244.6 455.6L245.6 454.5L246.6 453.6L247.6 452.8L248.6 452.1L249.6 451.4L250.6 450.8L251.6 450.3L252.6 449.9L253.6 449.5L254.6 449.1L255.6 448.8L256.6 448.6L257.6 448.3L258.6 448.1L259.6 448.0L260.6 447.8L261.6 447.7L262.6 447.6L263.6 447.5L264.6 447.4L265.6 447.4L266.6 447.3L267.6 447.3L268.6 447.2L269.6 447.2L270.6 447.2L271.6 447.1L272.6 447.1L273.6 447.1L274.6 447.1L275.6 447.1L276.6 447.1L277.6 447.1L278.6 447.1L279.6 447.1L280.6 447.1L281.6 447.1L282.6 447.1L283.6 447.1L284.6 447.1L285.6 447.1L286.6 447.1L287.6 447.1L288.6 447.1L289.6 447.1L290.6 447.1L291.6 447.1L292.6 447.1L293.6 447.1L294.6 447.1L295.6 447.1L296.6 447.1L297.6 447.1L298.6 447.1L299.6 447.1L300.6 447.1L301.6 447.1L302.6 447.1L303.6 447.1L304.6 447.2L305.6 447.2L306.6 447.2L307.6 447.2L308.6 447.2L309.6 447.2L310.6 447.2L311.6 447.2L312.6 447.2L313.6 447.2L314.6 447.2L315.6 447.2L316.6 447.2L317.6 447.2L318.6 447.2L319.6 447.2L320.6 447.2L321.6 447.2L322.6 447.2L323.6 447.2L324.6 447.2L325.6 447.2L326.6 447.2L327.6 447.2L328.6 447.2L329.6 447.2L330.6 447.3L331.6 447.3L332.6 447.3L333.6 447.3L334.6 447.3L335.6 447.3L336.6 447.3L337.6 447.3L338.6 447.3L339.6 447.3L340.6 447.3L341.6 447.3L342.6 447.3L343.6 447.3L344.6 447.3L345.6 447.3L346.6 447.3L347.6 447.3L348.6 447.3L349.6 447.3L350.6 447.3L351.6 447.3L352.6 447.3L353.6 447.3L354.6 447.3L355.6 447.3L356.6 447.4L357.6 447.4L358.6 447.4L359.6 447.4L360.6 447.4L361.6 447.4L362.6 447.4L363.6 447.4L364.6 447.4L365.6 447.4L366.6 447.4L367.6 447.4L368.6 447.4" stroke="#0000ff" stroke-width="2.3" stroke-dasharray="2.3 3.7" fill="none"/>
<path d="M86.6 446.3L87.6 446.3L88.6 446.3L89.6 446.3L90.6 446.3L91.6 446.3L92.6 446.3L93.6 446.3L94.6 446.3L95.6 446.3L96.6 446.3L97.6 446.3L98.6 446.4L99.6 446.4L100.6 446.4L101.6 446.4L102.6 446.4L103.6 446.4L104.6 446.4L105.6 446.4L106.6 446.4L107.6 446.4L108.6 446.4L109.6 446.4L110.6 446.5L111.6 446.5L112.6 446.5L113.6 446.5L114.6 446.6L115.6 446.6L116.6 446.6L117.6 446.7L118.6 446.7L119.6 446.8L120.6 446.9L121.6 447.0L122.6 447.1L123.6 447.2L124.6 447.4L125.6 447.5L126.6 447.7L127.6 447.9L128.6 448.2L129.6 448.4L130.6 448.8L131.6 449.1L132.6 449.6L133.6 450.0L134.6 450.6L135.6 451.2L136.6 451.9L137.6 452.6L138.6 453.5L139.6 454.4L140.6 455.5L141.6 456.7L142.6 458.0L143.6 459.4L144.6 461.0L145.6 462.7L146.6 464.6L147.6 466.7L148.6 468.9L149.6 471.3L150.6 474.0L151.6 476.8L152.6 479.8L153.6 483.1L154.6 486.6L155.6 490.3L156.6 494.2L157.6 498.4L158.6 502.8L159.6 507.4L160.6 512.2L161.6 517.2L162.6 522.5L163.6 527.9L164.6 533.5L165.6 539.2L166.6 545.1L167.6 551.1L168.6 557.2L169.6 563.4L170.6 569.6L171.6 575.9L172.6 582.1L173.6 588.2L174.6 594.3L175.6 600.3L176.6 606.1L177.6 611.8L178.6 617.2L179.6 622.4L180.6 627.2L181.6 631.8L182.6 636.0L183.6 639.9L184.6 643.3L185.6 646.3L186.6 648.9L187.6 650.9L188.6 652.6L189.6 653.7L190.6 654.3L191.6 654.4L192.6 654.0L193.6 653.1L194.6 651.7L195.6 649.8L196.6 647.4L197.6 644.6L198.6 641.3L199.6 637.7L200.6 633.6L201.6 629.2L202.6 624.4L203.6 619.4L204.6 614.1L205.6 608.5L206.6 602.8L207.6 596.9L208.6 590.8L209.6 584.7L210.6 578.5L211.6 572.3L212.6 566.1L213.6 559.9L214.6 553.8L215.6 547.7L216.6 541.8L217.6 536.0L218.6 530.3L219.6 524.8L220.6 519.5L221.6 514.4L222.6 509.5L223.6 504.8L224.6 500.4L225.6 496.1L226.6 492.1L227.6 488.3L228.6 484.8L229.6 481.4L230.6 478.3L231.6 475.4L232.6 472.7L233.6 470.2L234.6 467.9L235.6 465.7L236.6 463.8L237.6 462.0L238.6 460.4L239.6 458.9L240.6 457.5L241.6 456.3L242.6 455.2L243.6 454.2L244.6 453.4L245.6 452.6L246.6 451.9L247.6 451.2L248.6 450.7L249.6 450.2L250.6 449.8L251.6 449.4L252.6 449.0L253.6 448.8L254.6 448.5L255.6 448.3L256.6 448.1L257.6 447.9L258.6 447.8L259.6 447.7L260.6 447.6L261.6 447.5L262.6 447.4L263.6 447.3L264.6 447.3L265.6 447.2L266.6 447.2L267.6 447.2L268.6 447.1L269.6 447.1L270.6 447.1L271.6 447.1L272.6 447.1L273.6 447.1L274.6 447.1L275.6 447.1L276.6 447.1L277.6 447.1L278.6 447.1L279.6 447.1L280.6 447.1L281.6 447.1L282.6 447.1L283.6 447.1L284.6 447.1L285.6 447.1L286.6 447.1L287.6 447.1L288.6 447.1L289.6 447.1L290.6 447.1L291.6 447.1L292.6 447.1L293.6 447.1L294.6 447.1L295.6 447.1L296.6 447.1L297.6 447.1L298.6 447.1L299.6 447.1L300.6 447.1L301.6 447.1L302.6 447.1L303.6 447.1L304.6 447.2L305.6 447.2L306.6 447.2L307.6 447.2L308.6 447.2L309.6 447.2L310.6 447.2L311.6 447.2L312.6 447.2L313.6 447.2L314.6 447.2L315.6 447.2L316.6 447.2L317.6 447.2L318.6 447.2L319.6 447.2L320.6 447.2L321.6 447.2L322.6 447.2L323.6 447.2L324.6 447.2L325.6 447.2L326.6 447.2L327.6 447.2L328.6 447.2L329.6 447.2L330.6 447.3L331.6 447.3L332.6 447.3L333.6 447.3L334.6 447.3L335.6 447.3L336.6 447.3L337.6 447.3L338.6 447.3L339.6 447.3L340.6 447.3L341.6 447.3L342.6 447.3L343.6 447.3L344.6 447.3L345.6 447.3L346.6 447.3L347.6 447.3L348.6 447.3L349.6 447.3L350.6 447.3L351.6 447.3L352.6 447.3L353.6 447.3L354.6 447.3L355.6 447.3L356.6 447.4L357.6 447.4L358.6 447.4L359.6 447.4L360.6 447.4L361.6 447.4L362.6 447.4L363.6 447.4L364.6 447.4L365.6 447.4L366.6 447.4L367.6 447.4L368.6 447.4" stroke="#ff0000" stroke-width="2.6" fill="none" stroke-linejoin="round"/>
<path d="M86.6 446.4H368.8" stroke="#000" stroke-width="2.3" stroke-dasharray="2.3 3.7" fill="none"/>
</g>
<rect x="86.6" y="419.6" width="282.2" height="292.1" fill="none" stroke="#000" stroke-width="1.3"/>
<path d="M153.4 711.7v-11.3M153.4 419.6v11.3M252.7 711.7v-11.3M252.7 419.6v11.3M352.0 711.7v-11.3M352.0 419.6v11.3M86.6 446.9h11.3M368.8 446.9h-11.3M86.6 513.1h11.3M368.8 513.1h-11.3M86.6 579.3h11.3M368.8 579.3h-11.3M86.6 645.5h11.3M368.8 645.5h-11.3M86.6 711.7h11.3M368.8 711.7h-11.3" stroke="#000" stroke-width="1.3" fill="none"/>
<text x="150.5" y="739.7" text-anchor="middle" font-size="17.5" textLength="54.9" lengthAdjust="spacingAndGlyphs">6141.6</text>
<text x="249.8" y="739.7" text-anchor="middle" font-size="17.5" textLength="54.9" lengthAdjust="spacingAndGlyphs">6141.9</text>
<text x="349.1" y="739.7" text-anchor="middle" font-size="17.5" textLength="54.9" lengthAdjust="spacingAndGlyphs">6142.2</text>
<text x="70.4" y="456.1" text-anchor="end" font-size="17.5" textLength="34.4" lengthAdjust="spacingAndGlyphs">1.00</text>
<text x="70.4" y="522.3" text-anchor="end" font-size="17.5" textLength="34.4" lengthAdjust="spacingAndGlyphs">0.99</text>
<text x="70.4" y="588.5" text-anchor="end" font-size="17.5" textLength="34.4" lengthAdjust="spacingAndGlyphs">0.98</text>
<text x="70.4" y="654.7" text-anchor="end" font-size="17.5" textLength="34.4" lengthAdjust="spacingAndGlyphs">0.97</text>
<text x="70.4" y="720.9" text-anchor="end" font-size="17.5" textLength="34.4" lengthAdjust="spacingAndGlyphs">0.96</text>
<text x="219.3" y="767.7" text-anchor="middle" font-size="17.5" textLength="158.2" lengthAdjust="spacingAndGlyphs">Lambda (angstrom)</text>
<g transform="translate(23.1 631.0) rotate(-90)"><text x="0" y="0" class="tw" font-size="16.5" textLength="82.3" lengthAdjust="spacingAndGlyphs">Arbitrary</text><text x="93.4" y="0" class="tw" font-size="16.5" textLength="37.1" lengthAdjust="spacingAndGlyphs">Flux</text></g>
<text x="210.6" y="672.1" class="twb" font-size="21.0" style="fill:#000" textLength="21.3" lengthAdjust="spacingAndGlyphs">Ba</text>
<text x="242.6" y="672.1" class="twb" font-size="21.0" style="fill:#000;stroke:#000;stroke-width:0.6" textLength="13.2" lengthAdjust="spacingAndGlyphs">II</text>
<text x="266.1" y="672.1" class="twb" font-size="21.0" style="fill:#000" textLength="45.5" lengthAdjust="spacingAndGlyphs">6141</text>
<text x="323.2" y="672.1" class="twb" font-size="21.0" style="fill:#000" textLength="10.7" lengthAdjust="spacingAndGlyphs">A</text>
<text x="210.6" y="691.4" class="twb" font-size="21.0" style="fill:#ff0000" textLength="51.6" lengthAdjust="spacingAndGlyphs">A(Ba)</text>
<text x="275.1" y="691.4" class="twb" font-size="21.0" style="fill:#ff0000" textLength="10.7" lengthAdjust="spacingAndGlyphs">=</text>
<text x="299.0" y="691.4" class="twb" font-size="21.0" style="fill:#ff0000" textLength="54.1" lengthAdjust="spacingAndGlyphs">−0.99</text>
<clipPath id="c4"><rect x="473.4" y="419.6" width="282.0" height="292.1"/></clipPath>
<g clip-path="url(#c4)">
<path d="M467.0 505.3l12.4 12.4M467.0 517.7l12.4 -12.4M472.8 504.2l12.4 12.4M472.8 516.6l12.4 -12.4M477.9 501.2l12.4 12.4M477.9 513.6l12.4 -12.4M482.9 514.2l12.4 12.4M482.9 526.6l12.4 -12.4M488.9 541.3l12.4 12.4M488.9 553.7l12.4 -12.4M494.5 592.0l12.4 12.4M494.5 604.4l12.4 -12.4M500.0 633.1l12.4 12.4M500.0 645.5l12.4 -12.4M506.0 654.2l12.4 12.4M506.0 666.6l12.4 -12.4M511.4 640.2l12.4 12.4M511.4 652.6l12.4 -12.4M517.0 597.0l12.4 12.4M517.0 609.4l12.4 -12.4M522.7 554.9l12.4 12.4M522.7 567.3l12.4 -12.4M528.1 512.2l12.4 12.4M528.1 524.6l12.4 -12.4M534.1 490.1l12.4 12.4M534.1 502.5l12.4 -12.4M539.1 477.1l12.4 12.4M539.1 489.5l12.4 -12.4M544.3 473.1l12.4 12.4M544.3 485.5l12.4 -12.4M550.2 473.1l12.4 12.4M550.2 485.5l12.4 -12.4M556.2 494.1l12.4 12.4M556.2 506.5l12.4 -12.4M562.2 524.3l12.4 12.4M562.2 536.7l12.4 -12.4M568.2 553.8l12.4 12.4M568.2 566.2l12.4 -12.4M573.3 573.9l12.4 12.4M573.3 586.3l12.4 -12.4M579.3 580.9l12.4 12.4M579.3 593.3l12.4 -12.4M585.3 573.9l12.4 12.4M585.3 586.3l12.4 -12.4M590.3 553.8l12.4 12.4M590.3 566.2l12.4 -12.4M596.4 526.6l12.4 12.4M596.4 539.0l12.4 -12.4M601.8 502.2l12.4 12.4M601.8 514.6l12.4 -12.4M607.2 479.1l12.4 12.4M607.2 491.5l12.4 -12.4M612.6 455.6l12.4 12.4M612.6 468.0l12.4 -12.4M618.4 441.8l12.4 12.4M618.4 454.2l12.4 -12.4M624.0 439.5l12.4 12.4M624.0 451.9l12.4 -12.4M629.4 439.4l12.4 12.4M629.4 451.8l12.4 -12.4M635.1 438.6l12.4 12.4M635.1 451.0l12.4 -12.4M641.0 439.5l12.4 12.4M641.0 451.9l12.4 -12.4M646.8 435.8l12.4 12.4M646.8 448.2l12.4 -12.4M652.2 432.3l12.4 12.4M652.2 444.7l12.4 -12.4M657.9 431.8l12.4 12.4M657.9 444.2l12.4 -12.4M663.3 432.8l12.4 12.4M663.3 445.2l12.4 -12.4M668.9 430.8l12.4 12.4M668.9 443.2l12.4 -12.4M674.6 426.2l12.4 12.4M674.6 438.6l12.4 -12.4M680.4 428.1l12.4 12.4M680.4 440.5l12.4 -12.4M686.0 430.2l12.4 12.4M686.0 442.6l12.4 -12.4M691.6 431.7l12.4 12.4M691.6 444.1l12.4 -12.4M697.2 437.1l12.4 12.4M697.2 449.5l12.4 -12.4M702.7 441.8l12.4 12.4M702.7 454.2l12.4 -12.4M708.2 437.6l12.4 12.4M708.2 450.0l12.4 -12.4M713.8 433.7l12.4 12.4M713.8 446.1l12.4 -12.4M719.3 434.3l12.4 12.4M719.3 446.7l12.4 -12.4M725.6 438.1l12.4 12.4M725.6 450.5l12.4 -12.4M731.2 440.6l12.4 12.4M731.2 453.0l12.4 -12.4M736.8 442.6l12.4 12.4M736.8 455.0l12.4 -12.4M742.3 441.6l12.4 12.4M742.3 454.0l12.4 -12.4M747.8 435.3l12.4 12.4M747.8 447.7l12.4 -12.4" stroke="#000" stroke-width="2.4" fill="none"/>
<path d="M473.4 471.6L474.4 470.3L475.4 469.1L476.4 467.7L477.4 466.4L478.4 465.0L479.4 463.6L480.4 462.3L481.4 460.9L482.4 459.6L483.4 458.3L484.4 457.0L485.4 455.8L486.4 454.7L487.4 453.6L488.4 452.5L489.4 451.5L490.4 450.6L491.4 449.8L492.4 449.0L493.4 448.2L494.4 447.5L495.4 446.9L496.4 446.3L497.4 445.8L498.4 445.4L499.4 444.9L500.4 444.6L501.4 444.2L502.4 443.9L503.4 443.7L504.4 443.5L505.4 443.3L506.4 443.1L507.4 442.9L508.4 442.8L509.4 442.7L510.4 442.6L511.4 442.5L512.4 442.4L513.4 442.4L514.4 442.3L515.4 442.3L516.4 442.3L517.4 442.2L518.4 442.2L519.4 442.2L520.4 442.2L521.4 442.2L522.4 442.2L523.4 442.2L524.4 442.2L525.4 442.2L526.4 442.2L527.4 442.2L528.4 442.2L529.4 442.2L530.4 442.2L531.4 442.2L532.4 442.3L533.4 442.3L534.4 442.3L535.4 442.4L536.4 442.4L537.4 442.4L538.4 442.5L539.4 442.6L540.4 442.7L541.4 442.7L542.4 442.8L543.4 443.0L544.4 443.1L545.4 443.2L546.4 443.4L547.4 443.6L548.4 443.8L549.4 444.0L550.4 444.2L551.4 444.5L552.4 444.8L553.4 445.1L554.4 445.4L555.4 445.8L556.4 446.1L557.4 446.5L558.4 447.0L559.4 447.4L560.4 447.9L561.4 448.4L562.4 448.9L563.4 449.4L564.4 450.0L565.4 450.6L566.4 451.1L567.4 451.7L568.4 452.3L569.4 452.9L570.4 453.5L571.4 454.0L572.4 454.6L573.4 455.1L574.4 455.7L575.4 456.1L576.4 456.6L577.4 457.0L578.4 457.4L579.4 457.8L580.4 458.1L581.4 458.3L582.4 458.5L583.4 458.7L584.4 458.8L585.4 458.8L586.4 458.8L587.4 458.7L588.4 458.6L589.4 458.4L590.4 458.2L591.4 457.9L592.4 457.6L593.4 457.2L594.4 456.8L595.4 456.3L596.4 455.9L597.4 455.3L598.4 454.8L599.4 454.3L600.4 453.7L601.4 453.1L602.4 452.5L603.4 452.0L604.4 451.4L605.4 450.8L606.4 450.2L607.4 449.7L608.4 449.1L609.4 448.6L610.4 448.1L611.4 447.6L612.4 447.1L613.4 446.7L614.4 446.3L615.4 445.9L616.4 445.5L617.4 445.2L618.4 444.9L619.4 444.6L620.4 444.3L621.4 444.1L622.4 443.8L623.4 443.6L624.4 443.5L625.4 443.3L626.4 443.1L627.4 443.0L628.4 442.9L629.4 442.8L630.4 442.7L631.4 442.6L632.4 442.5L633.4 442.5L634.4 442.4L635.4 442.4L636.4 442.3L637.4 442.3L638.4 442.3L639.4 442.2L640.4 442.2L641.4 442.2L642.4 442.2L643.4 442.2L644.4 442.2L645.4 442.1L646.4 442.1L647.4 442.1L648.4 442.1L649.4 442.1L650.4 442.1L651.4 442.1L652.4 442.1L653.4 442.1L654.4 442.1L655.4 442.1L656.4 442.1L657.4 442.1L658.4 442.1L659.4 442.1L660.4 442.1L661.4 442.1L662.4 442.1L663.4 442.1L664.4 442.1L665.4 442.1L666.4 442.1L667.4 442.1L668.4 442.1L669.4 442.1L670.4 442.1L671.4 442.1L672.4 442.1L673.4 442.1L674.4 442.1L675.4 442.1L676.4 442.1L677.4 442.1L678.4 442.1L679.4 442.1L680.4 442.1L681.4 442.1L682.4 442.1L683.4 442.1L684.4 442.1L685.4 442.1L686.4 442.1L687.4 442.1L688.4 442.1L689.4 442.1L690.4 442.1L691.4 442.1L692.4 442.1L693.4 442.1L694.4 442.1L695.4 442.1L696.4 442.1L697.4 442.1L698.4 442.1L699.4 442.1L700.4 442.1L701.4 442.1L702.4 442.1L703.4 442.1L704.4 442.1L705.4 442.1L706.4 442.1L707.4 442.1L708.4 442.1L709.4 442.1L710.4 442.1L711.4 442.1L712.4 442.1L713.4 442.1L714.4 442.1L715.4 442.1L716.4 442.1L717.4 442.1L718.4 442.1L719.4 442.1L720.4 442.1L721.4 442.1L722.4 442.1L723.4 442.1L724.4 442.1L725.4 442.1L726.4 442.1L727.4 442.1L728.4 442.1L729.4 442.1L730.4 442.1L731.4 442.1L732.4 442.1L733.4 442.1L734.4 442.1L735.4 442.1L736.4 442.1L737.4 442.1L738.4 442.1L739.4 442.1L740.4 442.1L741.4 442.1L742.4 442.1L743.4 442.1L744.4 442.1L745.4 442.1L746.4 442.1L747.4 442.1L748.4 442.1L749.4 442.1L750.4 442.1L751.4 442.1L752.4 442.1L753.4 442.1L754.4 442.1L755.4 442.1" stroke="#0000ff" stroke-width="2.3" stroke-dasharray="2.3 3.7" fill="none"/>
<path d="M473.4 471.6L474.4 470.3L475.4 469.1L476.4 467.7L477.4 466.4L478.4 465.0L479.4 463.6L480.4 462.3L481.4 460.9L482.4 459.6L483.4 458.3L484.4 457.0L485.4 455.8L486.4 454.7L487.4 453.6L488.4 452.5L489.4 451.5L490.4 450.6L491.4 449.8L492.4 449.0L493.4 448.2L494.4 447.5L495.4 446.9L496.4 446.3L497.4 445.8L498.4 445.4L499.4 444.9L500.4 444.6L501.4 444.2L502.4 443.9L503.4 443.7L504.4 443.5L505.4 443.3L506.4 443.1L507.4 442.9L508.4 442.8L509.4 442.7L510.4 442.6L511.4 442.5L512.4 442.4L513.4 442.4L514.4 442.3L515.4 442.3L516.4 442.3L517.4 442.3L518.4 442.2L519.4 442.2L520.4 442.2L521.4 442.2L522.4 442.2L523.4 442.2L524.4 442.2L525.4 442.2L526.4 442.3L527.4 442.3L528.4 442.3L529.4 442.4L530.4 442.4L531.4 442.5L532.4 442.6L533.4 442.7L534.4 442.8L535.4 442.9L536.4 443.0L537.4 443.2L538.4 443.4L539.4 443.6L540.4 443.9L541.4 444.2L542.4 444.5L543.4 444.8L544.4 445.2L545.4 445.7L546.4 446.2L547.4 446.8L548.4 447.4L549.4 448.1L550.4 448.9L551.4 449.7L552.4 450.6L553.4 451.6L554.4 452.6L555.4 453.7L556.4 455.0L557.4 456.2L558.4 457.6L559.4 459.1L560.4 460.6L561.4 462.2L562.4 463.8L563.4 465.5L564.4 467.3L565.4 469.1L566.4 470.9L567.4 472.7L568.4 474.6L569.4 476.5L570.4 478.3L571.4 480.1L572.4 481.9L573.4 483.6L574.4 485.3L575.4 486.8L576.4 488.3L577.4 489.7L578.4 490.9L579.4 492.0L580.4 493.0L581.4 493.8L582.4 494.4L583.4 494.9L584.4 495.2L585.4 495.3L586.4 495.2L587.4 495.0L588.4 494.6L589.4 494.0L590.4 493.3L591.4 492.4L592.4 491.4L593.4 490.2L594.4 488.9L595.4 487.4L596.4 485.9L597.4 484.3L598.4 482.6L599.4 480.8L600.4 479.0L601.4 477.2L602.4 475.3L603.4 473.5L604.4 471.6L605.4 469.8L606.4 468.0L607.4 466.2L608.4 464.5L609.4 462.8L610.4 461.2L611.4 459.7L612.4 458.2L613.4 456.8L614.4 455.5L615.4 454.2L616.4 453.1L617.4 452.0L618.4 451.0L619.4 450.0L620.4 449.2L621.4 448.4L622.4 447.7L623.4 447.0L624.4 446.4L625.4 445.9L626.4 445.4L627.4 445.0L628.4 444.6L629.4 444.3L630.4 444.0L631.4 443.7L632.4 443.5L633.4 443.3L634.4 443.1L635.4 443.0L636.4 442.8L637.4 442.7L638.4 442.6L639.4 442.5L640.4 442.5L641.4 442.4L642.4 442.3L643.4 442.3L644.4 442.3L645.4 442.2L646.4 442.2L647.4 442.2L648.4 442.2L649.4 442.2L650.4 442.1L651.4 442.1L652.4 442.1L653.4 442.1L654.4 442.1L655.4 442.1L656.4 442.1L657.4 442.1L658.4 442.1L659.4 442.1L660.4 442.1L661.4 442.1L662.4 442.1L663.4 442.1L664.4 442.1L665.4 442.1L666.4 442.1L667.4 442.1L668.4 442.1L669.4 442.1L670.4 442.1L671.4 442.1L672.4 442.1L673.4 442.1L674.4 442.1L675.4 442.1L676.4 442.1L677.4 442.1L678.4 442.1L679.4 442.1L680.4 442.1L681.4 442.1L682.4 442.1L683.4 442.1L684.4 442.1L685.4 442.1L686.4 442.1L687.4 442.1L688.4 442.1L689.4 442.1L690.4 442.1L691.4 442.1L692.4 442.1L693.4 442.1L694.4 442.1L695.4 442.1L696.4 442.1L697.4 442.1L698.4 442.1L699.4 442.1L700.4 442.1L701.4 442.1L702.4 442.1L703.4 442.1L704.4 442.1L705.4 442.1L706.4 442.1L707.4 442.1L708.4 442.1L709.4 442.1L710.4 442.1L711.4 442.1L712.4 442.1L713.4 442.1L714.4 442.1L715.4 442.1L716.4 442.1L717.4 442.1L718.4 442.1L719.4 442.1L720.4 442.1L721.4 442.1L722.4 442.1L723.4 442.1L724.4 442.1L725.4 442.1L726.4 442.1L727.4 442.1L728.4 442.1L729.4 442.1L730.4 442.1L731.4 442.1L732.4 442.1L733.4 442.1L734.4 442.1L735.4 442.1L736.4 442.1L737.4 442.1L738.4 442.1L739.4 442.1L740.4 442.1L741.4 442.1L742.4 442.1L743.4 442.1L744.4 442.1L745.4 442.1L746.4 442.1L747.4 442.1L748.4 442.1L749.4 442.1L750.4 442.1L751.4 442.1L752.4 442.1L753.4 442.1L754.4 442.1L755.4 442.1" stroke="#0000ff" stroke-width="2.3" stroke-dasharray="2.3 3.7" fill="none"/>
<path d="M473.4 471.6L474.4 470.3L475.4 469.1L476.4 467.7L477.4 466.4L478.4 465.0L479.4 463.6L480.4 462.3L481.4 460.9L482.4 459.6L483.4 458.3L484.4 457.0L485.4 455.8L486.4 454.7L487.4 453.6L488.4 452.5L489.4 451.5L490.4 450.6L491.4 449.8L492.4 449.0L493.4 448.2L494.4 447.5L495.4 446.9L496.4 446.3L497.4 445.8L498.4 445.4L499.4 444.9L500.4 444.6L501.4 444.2L502.4 443.9L503.4 443.7L504.4 443.5L505.4 443.3L506.4 443.1L507.4 442.9L508.4 442.8L509.4 442.7L510.4 442.6L511.4 442.5L512.4 442.5L513.4 442.4L514.4 442.4L515.4 442.3L516.4 442.3L517.4 442.3L518.4 442.3L519.4 442.3L520.4 442.3L521.4 442.3L522.4 442.4L523.4 442.4L524.4 442.5L525.4 442.5L526.4 442.6L527.4 442.7L528.4 442.9L529.4 443.0L530.4 443.2L531.4 443.4L532.4 443.7L533.4 444.0L534.4 444.3L535.4 444.7L536.4 445.2L537.4 445.7L538.4 446.3L539.4 447.0L540.4 447.8L541.4 448.7L542.4 449.8L543.4 450.9L544.4 452.2L545.4 453.7L546.4 455.3L547.4 457.1L548.4 459.1L549.4 461.3L550.4 463.7L551.4 466.3L552.4 469.1L553.4 472.2L554.4 475.5L555.4 479.0L556.4 482.8L557.4 486.9L558.4 491.2L559.4 495.7L560.4 500.4L561.4 505.3L562.4 510.5L563.4 515.8L564.4 521.2L565.4 526.8L566.4 532.5L567.4 538.2L568.4 543.9L569.4 549.7L570.4 555.4L571.4 561.0L572.4 566.4L573.4 571.7L574.4 576.8L575.4 581.6L576.4 586.1L577.4 590.2L578.4 594.0L579.4 597.4L580.4 600.3L581.4 602.7L582.4 604.6L583.4 606.0L584.4 606.9L585.4 607.2L586.4 607.0L587.4 606.2L588.4 604.9L589.4 603.1L590.4 600.8L591.4 598.0L592.4 594.7L593.4 591.0L594.4 586.9L595.4 582.5L596.4 577.8L597.4 572.8L598.4 567.5L599.4 562.1L600.4 556.5L601.4 550.8L602.4 545.1L603.4 539.3L604.4 533.6L605.4 527.9L606.4 522.3L607.4 516.8L608.4 511.5L609.4 506.3L610.4 501.4L611.4 496.6L612.4 492.0L613.4 487.7L614.4 483.6L615.4 479.8L616.4 476.2L617.4 472.8L618.4 469.7L619.4 466.8L620.4 464.2L621.4 461.7L622.4 459.5L623.4 457.5L624.4 455.6L625.4 454.0L626.4 452.5L627.4 451.2L628.4 450.0L629.4 448.9L630.4 448.0L631.4 447.2L632.4 446.5L633.4 445.8L634.4 445.3L635.4 444.8L636.4 444.4L637.4 444.0L638.4 443.7L639.4 443.5L640.4 443.2L641.4 443.0L642.4 442.9L643.4 442.7L644.4 442.6L645.4 442.5L646.4 442.5L647.4 442.4L648.4 442.3L649.4 442.3L650.4 442.3L651.4 442.2L652.4 442.2L653.4 442.2L654.4 442.2L655.4 442.2L656.4 442.1L657.4 442.1L658.4 442.1L659.4 442.1L660.4 442.1L661.4 442.1L662.4 442.1L663.4 442.1L664.4 442.1L665.4 442.1L666.4 442.1L667.4 442.1L668.4 442.1L669.4 442.1L670.4 442.1L671.4 442.1L672.4 442.1L673.4 442.1L674.4 442.1L675.4 442.1L676.4 442.1L677.4 442.1L678.4 442.1L679.4 442.1L680.4 442.1L681.4 442.1L682.4 442.1L683.4 442.1L684.4 442.1L685.4 442.1L686.4 442.1L687.4 442.1L688.4 442.1L689.4 442.1L690.4 442.1L691.4 442.1L692.4 442.1L693.4 442.1L694.4 442.1L695.4 442.1L696.4 442.1L697.4 442.1L698.4 442.1L699.4 442.1L700.4 442.1L701.4 442.1L702.4 442.1L703.4 442.1L704.4 442.1L705.4 442.1L706.4 442.1L707.4 442.1L708.4 442.1L709.4 442.1L710.4 442.1L711.4 442.1L712.4 442.1L713.4 442.1L714.4 442.1L715.4 442.1L716.4 442.1L717.4 442.1L718.4 442.1L719.4 442.1L720.4 442.1L721.4 442.1L722.4 442.1L723.4 442.1L724.4 442.1L725.4 442.1L726.4 442.1L727.4 442.1L728.4 442.1L729.4 442.1L730.4 442.1L731.4 442.1L732.4 442.1L733.4 442.1L734.4 442.1L735.4 442.1L736.4 442.1L737.4 442.1L738.4 442.1L739.4 442.1L740.4 442.1L741.4 442.1L742.4 442.1L743.4 442.1L744.4 442.1L745.4 442.1L746.4 442.1L747.4 442.1L748.4 442.1L749.4 442.1L750.4 442.1L751.4 442.1L752.4 442.1L753.4 442.1L754.4 442.1L755.4 442.1" stroke="#0000ff" stroke-width="2.3" stroke-dasharray="2.3 3.7" fill="none"/>
<path d="M473.4 471.6L474.4 470.3L475.4 469.1L476.4 467.7L477.4 466.4L478.4 465.0L479.4 463.6L480.4 462.3L481.4 460.9L482.4 459.6L483.4 458.3L484.4 457.0L485.4 455.8L486.4 454.7L487.4 453.6L488.4 452.5L489.4 451.5L490.4 450.6L491.4 449.8L492.4 449.0L493.4 448.2L494.4 447.5L495.4 446.9L496.4 446.3L497.4 445.8L498.4 445.4L499.4 444.9L500.4 444.6L501.4 444.2L502.4 443.9L503.4 443.7L504.4 443.5L505.4 443.3L506.4 443.1L507.4 442.9L508.4 442.8L509.4 442.7L510.4 442.6L511.4 442.5L512.4 442.5L513.4 442.4L514.4 442.4L515.4 442.3L516.4 442.3L517.4 442.3L518.4 442.3L519.4 442.3L520.4 442.3L521.4 442.3L522.4 442.3L523.4 442.3L524.4 442.3L525.4 442.4L526.4 442.4L527.4 442.5L528.4 442.6L529.4 442.7L530.4 442.8L531.4 442.9L532.4 443.1L533.4 443.3L534.4 443.5L535.4 443.8L536.4 444.1L537.4 444.5L538.4 445.0L539.4 445.5L540.4 446.1L541.4 446.7L542.4 447.5L543.4 448.4L544.4 449.3L545.4 450.4L546.4 451.7L547.4 453.1L548.4 454.6L549.4 456.4L550.4 458.2L551.4 460.3L552.4 462.6L553.4 465.1L554.4 467.8L555.4 470.7L556.4 473.9L557.4 477.3L558.4 480.8L559.4 484.6L560.4 488.7L561.4 492.9L562.4 497.3L563.4 501.9L564.4 506.6L565.4 511.5L566.4 516.5L567.4 521.6L568.4 526.7L569.4 531.9L570.4 537.0L571.4 542.1L572.4 547.0L573.4 551.9L574.4 556.6L575.4 561.0L576.4 565.2L577.4 569.1L578.4 572.7L579.4 575.9L580.4 578.7L581.4 581.1L582.4 583.1L583.4 584.5L584.4 585.5L585.4 586.0L586.4 586.0L587.4 585.5L588.4 584.5L589.4 583.1L590.4 581.1L591.4 578.7L592.4 575.9L593.4 572.7L594.4 569.1L595.4 565.2L596.4 561.0L597.4 556.6L598.4 551.9L599.4 547.0L600.4 542.1L601.4 537.0L602.4 531.9L603.4 526.7L604.4 521.6L605.4 516.5L606.4 511.5L607.4 506.6L608.4 501.9L609.4 497.3L610.4 492.9L611.4 488.7L612.4 484.6L613.4 480.8L614.4 477.3L615.4 473.9L616.4 470.7L617.4 467.8L618.4 465.1L619.4 462.6L620.4 460.3L621.4 458.2L622.4 456.4L623.4 454.6L624.4 453.1L625.4 451.7L626.4 450.4L627.4 449.3L628.4 448.4L629.4 447.5L630.4 446.7L631.4 446.1L632.4 445.5L633.4 445.0L634.4 444.5L635.4 444.1L636.4 443.8L637.4 443.5L638.4 443.3L639.4 443.1L640.4 442.9L641.4 442.8L642.4 442.7L643.4 442.6L644.4 442.5L645.4 442.4L646.4 442.4L647.4 442.3L648.4 442.3L649.4 442.2L650.4 442.2L651.4 442.2L652.4 442.2L653.4 442.2L654.4 442.1L655.4 442.1L656.4 442.1L657.4 442.1L658.4 442.1L659.4 442.1L660.4 442.1L661.4 442.1L662.4 442.1L663.4 442.1L664.4 442.1L665.4 442.1L666.4 442.1L667.4 442.1L668.4 442.1L669.4 442.1L670.4 442.1L671.4 442.1L672.4 442.1L673.4 442.1L674.4 442.1L675.4 442.1L676.4 442.1L677.4 442.1L678.4 442.1L679.4 442.1L680.4 442.1L681.4 442.1L682.4 442.1L683.4 442.1L684.4 442.1L685.4 442.1L686.4 442.1L687.4 442.1L688.4 442.1L689.4 442.1L690.4 442.1L691.4 442.1L692.4 442.1L693.4 442.1L694.4 442.1L695.4 442.1L696.4 442.1L697.4 442.1L698.4 442.1L699.4 442.1L700.4 442.1L701.4 442.1L702.4 442.1L703.4 442.1L704.4 442.1L705.4 442.1L706.4 442.1L707.4 442.1L708.4 442.1L709.4 442.1L710.4 442.1L711.4 442.1L712.4 442.1L713.4 442.1L714.4 442.1L715.4 442.1L716.4 442.1L717.4 442.1L718.4 442.1L719.4 442.1L720.4 442.1L721.4 442.1L722.4 442.1L723.4 442.1L724.4 442.1L725.4 442.1L726.4 442.1L727.4 442.1L728.4 442.1L729.4 442.1L730.4 442.1L731.4 442.1L732.4 442.1L733.4 442.1L734.4 442.1L735.4 442.1L736.4 442.1L737.4 442.1L738.4 442.1L739.4 442.1L740.4 442.1L741.4 442.1L742.4 442.1L743.4 442.1L744.4 442.1L745.4 442.1L746.4 442.1L747.4 442.1L748.4 442.1L749.4 442.1L750.4 442.1L751.4 442.1L752.4 442.1L753.4 442.1L754.4 442.1L755.4 442.1" stroke="#ff0000" stroke-width="2.6" fill="none" stroke-linejoin="round"/>
<path d="M473.4 435.6H755.4" stroke="#000" stroke-width="2.3" stroke-dasharray="2.3 3.7" fill="none"/>
</g>
<rect x="473.4" y="419.6" width="282.0" height="292.1" fill="none" stroke="#000" stroke-width="1.3"/>
<path d="M473.4 711.7v-11.3M473.4 419.6v11.3M558.0 711.7v-11.3M558.0 419.6v11.3M642.7 711.7v-11.3M642.7 419.6v11.3M727.4 711.7v-11.3M727.4 419.6v11.3M473.4 435.1h11.3M755.4 435.1h-11.3M473.4 514.2h11.3M755.4 514.2h-11.3M473.4 593.2h11.3M755.4 593.2h-11.3M473.4 672.3h11.3M755.4 672.3h-11.3" stroke="#000" stroke-width="1.3" fill="none"/>
<text x="470.5" y="739.7" text-anchor="middle" font-size="17.5" textLength="54.9" lengthAdjust="spacingAndGlyphs">6496.5</text>
<text x="555.1" y="739.7" text-anchor="middle" font-size="17.5" textLength="54.9" lengthAdjust="spacingAndGlyphs">6496.8</text>
<text x="639.8" y="739.7" text-anchor="middle" font-size="17.5" textLength="54.9" lengthAdjust="spacingAndGlyphs">6497.1</text>
<text x="724.5" y="739.7" text-anchor="middle" font-size="17.5" textLength="54.9" lengthAdjust="spacingAndGlyphs">6497.4</text>
<text x="457.2" y="444.3" text-anchor="end" font-size="17.5" textLength="34.4" lengthAdjust="spacingAndGlyphs">1.00</text>
<text x="457.2" y="523.4" text-anchor="end" font-size="17.5" textLength="34.4" lengthAdjust="spacingAndGlyphs">0.99</text>
<text x="457.2" y="602.4" text-anchor="end" font-size="17.5" textLength="34.4" lengthAdjust="spacingAndGlyphs">0.98</text>
<text x="457.2" y="681.5" text-anchor="end" font-size="17.5" textLength="34.4" lengthAdjust="spacingAndGlyphs">0.97</text>
<text x="606.0" y="767.7" text-anchor="middle" font-size="17.5" textLength="158.2" lengthAdjust="spacingAndGlyphs">Lambda (angstrom)</text>
<g transform="translate(409.9 631.0) rotate(-90)"><text x="0" y="0" class="tw" font-size="16.5" textLength="82.3" lengthAdjust="spacingAndGlyphs">Arbitrary</text><text x="93.4" y="0" class="tw" font-size="16.5" textLength="37.1" lengthAdjust="spacingAndGlyphs">Flux</text></g>
<text x="553.2" y="625.4" class="twb" font-size="21.0" style="fill:#000" textLength="21.3" lengthAdjust="spacingAndGlyphs">Ba</text>
<text x="585.2" y="625.4" class="twb" font-size="21.0" style="fill:#000;stroke:#000;stroke-width:0.6" textLength="13.2" lengthAdjust="spacingAndGlyphs">II</text>
<text x="608.7" y="625.4" class="twb" font-size="21.0" style="fill:#000" textLength="45.5" lengthAdjust="spacingAndGlyphs">6496</text>
<text x="665.8" y="625.4" class="twb" font-size="21.0" style="fill:#000" textLength="10.7" lengthAdjust="spacingAndGlyphs">A</text>
<text x="553.2" y="648.9" class="twb" font-size="21.0" style="fill:#ff0000" textLength="51.6" lengthAdjust="spacingAndGlyphs">A(Ba)</text>
<text x="617.7" y="648.9" class="twb" font-size="21.0" style="fill:#ff0000" textLength="10.7" lengthAdjust="spacingAndGlyphs">=</text>
<text x="641.6" y="648.9" class="twb" font-size="21.0" style="fill:#ff0000" textLength="53.8" lengthAdjust="spacingAndGlyphs">−0.96</text>
<text x="553.2" y="672.3" class="twb" font-size="21.0" style="fill:#0000ff" textLength="51.6" lengthAdjust="spacingAndGlyphs">A(Ba)</text>
<text x="617.7" y="672.3" class="twb" font-size="21.0" style="fill:#0000ff" textLength="10.7" lengthAdjust="spacingAndGlyphs">=</text>
<text x="641.6" y="672.3" class="twb" font-size="21.0" style="fill:#0000ff" textLength="97.7" lengthAdjust="spacingAndGlyphs">−0.9,−1.4,</text>
<text x="644.3" y="696.0" class="twb" font-size="21.0" style="fill:#0000ff" textLength="41.4" lengthAdjust="spacingAndGlyphs">−1.9</text>
</svg>
</body></html>
